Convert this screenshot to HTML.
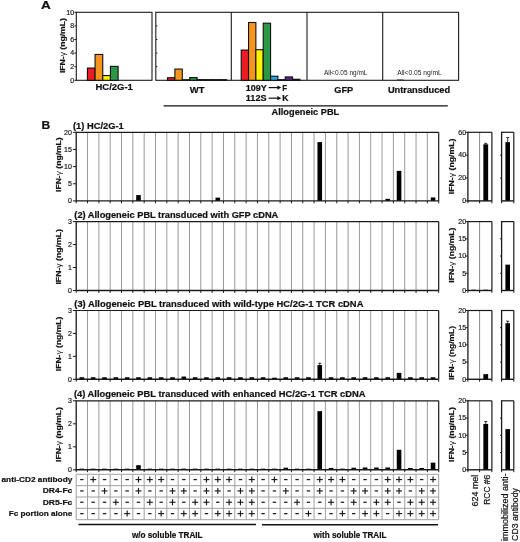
<!DOCTYPE html>
<html><head><meta charset="utf-8"><style>
html,body{margin:0;padding:0;background:#fff;width:520px;height:542px;overflow:hidden;}
svg{display:block;font-family:"Liberation Sans", sans-serif;will-change:transform;}
</style></head><body>
<svg width="520" height="542" viewBox="0 0 520 542">
<rect width="520" height="542" fill="#fff"/>
<text x="41.10" y="9.10" font-size="10.4" font-weight="bold" fill="#111" stroke="#111" stroke-width="0.2" textLength="9.80" lengthAdjust="spacingAndGlyphs">A</text>
<rect x="76.30" y="12.30" width="75.70" height="68.00" fill="none" stroke="#1a1a1a" stroke-width="1.1" />
<rect x="155.80" y="12.30" width="302.80" height="68.00" fill="none" stroke="#1a1a1a" stroke-width="1.1" />
<line x1="231.30" y1="12.30" x2="231.30" y2="80.30" stroke="#1a1a1a" stroke-width="1.1" />
<line x1="307.00" y1="12.30" x2="307.00" y2="80.30" stroke="#1a1a1a" stroke-width="1.1" />
<line x1="382.70" y1="12.30" x2="382.70" y2="80.30" stroke="#1a1a1a" stroke-width="1.1" />
<line x1="74.40" y1="80.30" x2="76.30" y2="80.30" stroke="#1a1a1a" stroke-width="1" />
<text transform="translate(74.20,82.57) scale(1.12,1)" font-size="6.3" text-anchor="end" fill="#1a1a1a" stroke="#1a1a1a" stroke-width="0.18">0</text>
<line x1="74.40" y1="66.70" x2="76.30" y2="66.70" stroke="#1a1a1a" stroke-width="1" />
<text transform="translate(74.20,68.97) scale(1.12,1)" font-size="6.3" text-anchor="end" fill="#1a1a1a" stroke="#1a1a1a" stroke-width="0.18">2</text>
<line x1="74.40" y1="53.10" x2="76.30" y2="53.10" stroke="#1a1a1a" stroke-width="1" />
<text transform="translate(74.20,55.37) scale(1.12,1)" font-size="6.3" text-anchor="end" fill="#1a1a1a" stroke="#1a1a1a" stroke-width="0.18">4</text>
<line x1="74.40" y1="39.50" x2="76.30" y2="39.50" stroke="#1a1a1a" stroke-width="1" />
<text transform="translate(74.20,41.77) scale(1.12,1)" font-size="6.3" text-anchor="end" fill="#1a1a1a" stroke="#1a1a1a" stroke-width="0.18">6</text>
<line x1="74.40" y1="25.90" x2="76.30" y2="25.90" stroke="#1a1a1a" stroke-width="1" />
<text transform="translate(74.20,28.17) scale(1.12,1)" font-size="6.3" text-anchor="end" fill="#1a1a1a" stroke="#1a1a1a" stroke-width="0.18">8</text>
<line x1="74.40" y1="12.30" x2="76.30" y2="12.30" stroke="#1a1a1a" stroke-width="1" />
<text transform="translate(74.20,14.57) scale(1.12,1)" font-size="6.3" text-anchor="end" fill="#1a1a1a" stroke="#1a1a1a" stroke-width="0.18">10</text>
<line x1="155.80" y1="66.70" x2="157.30" y2="66.70" stroke="#1a1a1a" stroke-width="1" />
<line x1="155.80" y1="53.10" x2="157.30" y2="53.10" stroke="#1a1a1a" stroke-width="1" />
<line x1="155.80" y1="39.50" x2="157.30" y2="39.50" stroke="#1a1a1a" stroke-width="1" />
<line x1="155.80" y1="25.90" x2="157.30" y2="25.90" stroke="#1a1a1a" stroke-width="1" />
<text transform="translate(64.80,73.10) rotate(-90)" x="0" y="0" font-size="7.8" font-weight="bold" fill="#111" stroke="#111" stroke-width="0.2" textLength="55.00" lengthAdjust="spacingAndGlyphs">IFN-<tspan font-weight="normal" stroke-width="0">γ</tspan> (ng/mL)</text>
<rect x="87.40" y="68.06" width="7.68" height="12.24" fill="#ec1c24" stroke="#111" stroke-width="1.1" />
<rect x="95.08" y="54.46" width="7.68" height="25.84" fill="#f7941d" stroke="#111" stroke-width="1.1" />
<rect x="102.76" y="75.54" width="7.68" height="4.76" fill="#fff200" stroke="#111" stroke-width="1.1" />
<rect x="110.44" y="66.36" width="7.68" height="13.94" fill="#2b9846" stroke="#111" stroke-width="1.1" />
<rect x="167.50" y="77.72" width="7.40" height="2.58" fill="#ec1c24" stroke="#111" stroke-width="1.1" />
<rect x="174.90" y="69.08" width="7.40" height="11.22" fill="#f7941d" stroke="#111" stroke-width="1.1" />
<rect x="182.30" y="79.70" width="7.40" height="0.60" fill="#fff200" stroke="#111" stroke-width="1.1" />
<rect x="189.70" y="77.58" width="7.40" height="2.72" fill="#2b9846" stroke="#111" stroke-width="1.1" />
<rect x="197.10" y="79.62" width="7.40" height="0.68" fill="#27a6de" stroke="#111" stroke-width="1.1" />
<rect x="204.50" y="79.70" width="7.40" height="0.60" fill="#222" stroke="#111" stroke-width="1.1" />
<rect x="211.90" y="79.70" width="7.40" height="0.60" fill="#5a2a82" stroke="#111" stroke-width="1.1" />
<rect x="219.30" y="79.70" width="7.40" height="0.60" fill="#222" stroke="#111" stroke-width="1.1" />
<rect x="241.20" y="50.04" width="7.34" height="30.26" fill="#ec1c24" stroke="#111" stroke-width="1.1" />
<rect x="248.54" y="22.50" width="7.34" height="57.80" fill="#f7941d" stroke="#111" stroke-width="1.1" />
<rect x="255.88" y="49.70" width="7.34" height="30.60" fill="#fff200" stroke="#111" stroke-width="1.1" />
<rect x="263.22" y="23.18" width="7.34" height="57.12" fill="#2b9846" stroke="#111" stroke-width="1.1" />
<rect x="270.56" y="76.22" width="7.34" height="4.08" fill="#27a6de" stroke="#111" stroke-width="1.1" />
<rect x="277.90" y="79.70" width="7.34" height="0.60" fill="#222" stroke="#111" stroke-width="1.1" />
<rect x="285.24" y="76.90" width="7.34" height="3.40" fill="#5a2a82" stroke="#111" stroke-width="1.1" />
<rect x="292.58" y="79.28" width="7.34" height="1.02" fill="#222" stroke="#111" stroke-width="1.1" />
<rect x="397.00" y="79.50" width="6.50" height="0.80" fill="#222" stroke="none" stroke-width="0" />
<text x="323.90" y="74.60" font-size="6.4" font-weight="normal" fill="#222" textLength="43.60" lengthAdjust="spacingAndGlyphs">All&lt;0.05 ng/mL</text>
<text x="397.20" y="74.60" font-size="6.4" font-weight="normal" fill="#222" textLength="44.50" lengthAdjust="spacingAndGlyphs">All&lt;0.05 ng/mL</text>
<text x="95.50" y="90.40" font-size="8.5" font-weight="bold" fill="#111" stroke="#111" stroke-width="0.2" textLength="37.30" lengthAdjust="spacingAndGlyphs">HC/2G-1</text>
<text x="189.80" y="92.70" font-size="8.5" font-weight="bold" fill="#111" stroke="#111" stroke-width="0.2" textLength="14.70" lengthAdjust="spacingAndGlyphs">WT</text>
<text x="245.80" y="90.60" font-size="8.5" font-weight="bold" fill="#111" stroke="#111" stroke-width="0.2" textLength="21.10" lengthAdjust="spacingAndGlyphs">109Y</text>
<text x="245.80" y="101.20" font-size="8.5" font-weight="bold" fill="#111" stroke="#111" stroke-width="0.2" textLength="20.70" lengthAdjust="spacingAndGlyphs">112S</text>
<line x1="268.60" y1="87.60" x2="278.00" y2="87.60" stroke="#111" stroke-width="1.2" />
<path d="M277.4,85.50 L281.3,87.60 L277.4,89.70 Z" fill="#111"/>
<line x1="268.60" y1="98.20" x2="278.00" y2="98.20" stroke="#111" stroke-width="1.2" />
<path d="M277.4,96.10 L281.3,98.20 L277.4,100.30 Z" fill="#111"/>
<text x="282.20" y="90.60" font-size="8.5" font-weight="bold" fill="#111" stroke="#111" stroke-width="0.2" textLength="4.80" lengthAdjust="spacingAndGlyphs">F</text>
<text x="282.20" y="101.20" font-size="8.5" font-weight="bold" fill="#111" stroke="#111" stroke-width="0.2" textLength="6.30" lengthAdjust="spacingAndGlyphs">K</text>
<text x="334.30" y="92.80" font-size="8.5" font-weight="bold" fill="#111" stroke="#111" stroke-width="0.2" textLength="19.00" lengthAdjust="spacingAndGlyphs">GFP</text>
<text x="387.90" y="93.30" font-size="8.5" font-weight="bold" fill="#111" stroke="#111" stroke-width="0.2" textLength="62.30" lengthAdjust="spacingAndGlyphs">Untransduced</text>
<line x1="163.60" y1="105.90" x2="447.80" y2="105.90" stroke="#111" stroke-width="1.4" />
<text x="271.60" y="114.80" font-size="8.5" font-weight="bold" fill="#111" stroke="#111" stroke-width="0.2" textLength="67.60" lengthAdjust="spacingAndGlyphs">Allogeneic PBL</text>
<text x="41.40" y="129.30" font-size="10.8" font-weight="bold" fill="#111" stroke="#111" stroke-width="0.2" textLength="8.70" lengthAdjust="spacingAndGlyphs">B</text>
<text x="73.00" y="128.70" font-size="8.5" font-weight="bold" fill="#111" stroke="#111" stroke-width="0.2" textLength="50.80" lengthAdjust="spacingAndGlyphs">(1) HC/2G-1</text>
<line x1="87.53" y1="132.30" x2="87.53" y2="200.90" stroke="#999999" stroke-width="1.0" />
<line x1="98.86" y1="132.30" x2="98.86" y2="200.90" stroke="#999999" stroke-width="1.0" />
<line x1="110.18" y1="132.30" x2="110.18" y2="200.90" stroke="#999999" stroke-width="1.0" />
<line x1="121.51" y1="132.30" x2="121.51" y2="200.90" stroke="#999999" stroke-width="1.0" />
<line x1="132.84" y1="132.30" x2="132.84" y2="200.90" stroke="#999999" stroke-width="1.0" />
<line x1="144.17" y1="132.30" x2="144.17" y2="200.90" stroke="#999999" stroke-width="1.0" />
<line x1="155.50" y1="132.30" x2="155.50" y2="200.90" stroke="#999999" stroke-width="1.0" />
<line x1="166.82" y1="132.30" x2="166.82" y2="200.90" stroke="#999999" stroke-width="1.0" />
<line x1="178.15" y1="132.30" x2="178.15" y2="200.90" stroke="#999999" stroke-width="1.0" />
<line x1="189.48" y1="132.30" x2="189.48" y2="200.90" stroke="#999999" stroke-width="1.0" />
<line x1="200.81" y1="132.30" x2="200.81" y2="200.90" stroke="#999999" stroke-width="1.0" />
<line x1="212.14" y1="132.30" x2="212.14" y2="200.90" stroke="#999999" stroke-width="1.0" />
<line x1="223.47" y1="132.30" x2="223.47" y2="200.90" stroke="#999999" stroke-width="1.0" />
<line x1="234.79" y1="132.30" x2="234.79" y2="200.90" stroke="#999999" stroke-width="1.0" />
<line x1="246.12" y1="132.30" x2="246.12" y2="200.90" stroke="#999999" stroke-width="1.0" />
<line x1="257.45" y1="132.30" x2="257.45" y2="200.90" stroke="#999999" stroke-width="1.0" />
<line x1="268.78" y1="132.30" x2="268.78" y2="200.90" stroke="#999999" stroke-width="1.0" />
<line x1="280.11" y1="132.30" x2="280.11" y2="200.90" stroke="#999999" stroke-width="1.0" />
<line x1="291.43" y1="132.30" x2="291.43" y2="200.90" stroke="#999999" stroke-width="1.0" />
<line x1="302.76" y1="132.30" x2="302.76" y2="200.90" stroke="#999999" stroke-width="1.0" />
<line x1="314.09" y1="132.30" x2="314.09" y2="200.90" stroke="#999999" stroke-width="1.0" />
<line x1="325.42" y1="132.30" x2="325.42" y2="200.90" stroke="#999999" stroke-width="1.0" />
<line x1="336.75" y1="132.30" x2="336.75" y2="200.90" stroke="#999999" stroke-width="1.0" />
<line x1="348.07" y1="132.30" x2="348.07" y2="200.90" stroke="#999999" stroke-width="1.0" />
<line x1="359.40" y1="132.30" x2="359.40" y2="200.90" stroke="#999999" stroke-width="1.0" />
<line x1="370.73" y1="132.30" x2="370.73" y2="200.90" stroke="#999999" stroke-width="1.0" />
<line x1="382.06" y1="132.30" x2="382.06" y2="200.90" stroke="#999999" stroke-width="1.0" />
<line x1="393.39" y1="132.30" x2="393.39" y2="200.90" stroke="#999999" stroke-width="1.0" />
<line x1="404.72" y1="132.30" x2="404.72" y2="200.90" stroke="#999999" stroke-width="1.0" />
<line x1="416.04" y1="132.30" x2="416.04" y2="200.90" stroke="#999999" stroke-width="1.0" />
<line x1="427.37" y1="132.30" x2="427.37" y2="200.90" stroke="#999999" stroke-width="1.0" />
<rect x="136.20" y="195.07" width="4.60" height="5.83" fill="#000" stroke="none" stroke-width="0" />
<rect x="215.50" y="197.64" width="4.60" height="3.26" fill="#000" stroke="none" stroke-width="0" />
<rect x="317.45" y="142.08" width="4.60" height="58.82" fill="#000" stroke="none" stroke-width="0" />
<rect x="385.42" y="198.84" width="4.60" height="2.06" fill="#000" stroke="none" stroke-width="0" />
<rect x="396.75" y="170.89" width="4.60" height="30.01" fill="#000" stroke="none" stroke-width="0" />
<rect x="430.74" y="197.47" width="4.60" height="3.43" fill="#000" stroke="none" stroke-width="0" />
<line x1="76.20" y1="132.30" x2="438.70" y2="132.30" stroke="#1a1a1a" stroke-width="1.2" />
<line x1="438.70" y1="132.30" x2="438.70" y2="200.90" stroke="#1a1a1a" stroke-width="1.2" />
<line x1="76.20" y1="131.70" x2="76.20" y2="201.50" stroke="#1a1a1a" stroke-width="1.3" />
<line x1="76.20" y1="200.90" x2="438.70" y2="200.90" stroke="#1a1a1a" stroke-width="1.4" />
<line x1="76.20" y1="200.90" x2="76.20" y2="203.30" stroke="#1a1a1a" stroke-width="1" />
<line x1="87.53" y1="200.90" x2="87.53" y2="203.30" stroke="#1a1a1a" stroke-width="1" />
<line x1="98.86" y1="200.90" x2="98.86" y2="203.30" stroke="#1a1a1a" stroke-width="1" />
<line x1="110.18" y1="200.90" x2="110.18" y2="203.30" stroke="#1a1a1a" stroke-width="1" />
<line x1="121.51" y1="200.90" x2="121.51" y2="203.30" stroke="#1a1a1a" stroke-width="1" />
<line x1="132.84" y1="200.90" x2="132.84" y2="203.30" stroke="#1a1a1a" stroke-width="1" />
<line x1="144.17" y1="200.90" x2="144.17" y2="203.30" stroke="#1a1a1a" stroke-width="1" />
<line x1="155.50" y1="200.90" x2="155.50" y2="203.30" stroke="#1a1a1a" stroke-width="1" />
<line x1="166.82" y1="200.90" x2="166.82" y2="203.30" stroke="#1a1a1a" stroke-width="1" />
<line x1="178.15" y1="200.90" x2="178.15" y2="203.30" stroke="#1a1a1a" stroke-width="1" />
<line x1="189.48" y1="200.90" x2="189.48" y2="203.30" stroke="#1a1a1a" stroke-width="1" />
<line x1="200.81" y1="200.90" x2="200.81" y2="203.30" stroke="#1a1a1a" stroke-width="1" />
<line x1="212.14" y1="200.90" x2="212.14" y2="203.30" stroke="#1a1a1a" stroke-width="1" />
<line x1="223.47" y1="200.90" x2="223.47" y2="203.30" stroke="#1a1a1a" stroke-width="1" />
<line x1="234.79" y1="200.90" x2="234.79" y2="203.30" stroke="#1a1a1a" stroke-width="1" />
<line x1="246.12" y1="200.90" x2="246.12" y2="203.30" stroke="#1a1a1a" stroke-width="1" />
<line x1="257.45" y1="200.90" x2="257.45" y2="203.30" stroke="#1a1a1a" stroke-width="1" />
<line x1="268.78" y1="200.90" x2="268.78" y2="203.30" stroke="#1a1a1a" stroke-width="1" />
<line x1="280.11" y1="200.90" x2="280.11" y2="203.30" stroke="#1a1a1a" stroke-width="1" />
<line x1="291.43" y1="200.90" x2="291.43" y2="203.30" stroke="#1a1a1a" stroke-width="1" />
<line x1="302.76" y1="200.90" x2="302.76" y2="203.30" stroke="#1a1a1a" stroke-width="1" />
<line x1="314.09" y1="200.90" x2="314.09" y2="203.30" stroke="#1a1a1a" stroke-width="1" />
<line x1="325.42" y1="200.90" x2="325.42" y2="203.30" stroke="#1a1a1a" stroke-width="1" />
<line x1="336.75" y1="200.90" x2="336.75" y2="203.30" stroke="#1a1a1a" stroke-width="1" />
<line x1="348.07" y1="200.90" x2="348.07" y2="203.30" stroke="#1a1a1a" stroke-width="1" />
<line x1="359.40" y1="200.90" x2="359.40" y2="203.30" stroke="#1a1a1a" stroke-width="1" />
<line x1="370.73" y1="200.90" x2="370.73" y2="203.30" stroke="#1a1a1a" stroke-width="1" />
<line x1="382.06" y1="200.90" x2="382.06" y2="203.30" stroke="#1a1a1a" stroke-width="1" />
<line x1="393.39" y1="200.90" x2="393.39" y2="203.30" stroke="#1a1a1a" stroke-width="1" />
<line x1="404.72" y1="200.90" x2="404.72" y2="203.30" stroke="#1a1a1a" stroke-width="1" />
<line x1="416.04" y1="200.90" x2="416.04" y2="203.30" stroke="#1a1a1a" stroke-width="1" />
<line x1="427.37" y1="200.90" x2="427.37" y2="203.30" stroke="#1a1a1a" stroke-width="1" />
<line x1="438.70" y1="200.90" x2="438.70" y2="203.30" stroke="#1a1a1a" stroke-width="1" />
<line x1="72.90" y1="200.90" x2="76.20" y2="200.90" stroke="#1a1a1a" stroke-width="1" />
<text transform="translate(71.90,203.17) scale(1.12,1)" font-size="6.3" text-anchor="end" fill="#1a1a1a" stroke="#1a1a1a" stroke-width="0.18">0</text>
<line x1="72.90" y1="183.75" x2="76.20" y2="183.75" stroke="#1a1a1a" stroke-width="1" />
<text transform="translate(71.90,186.02) scale(1.12,1)" font-size="6.3" text-anchor="end" fill="#1a1a1a" stroke="#1a1a1a" stroke-width="0.18">5</text>
<line x1="72.90" y1="166.60" x2="76.20" y2="166.60" stroke="#1a1a1a" stroke-width="1" />
<text transform="translate(71.90,168.87) scale(1.12,1)" font-size="6.3" text-anchor="end" fill="#1a1a1a" stroke="#1a1a1a" stroke-width="0.18">10</text>
<line x1="72.90" y1="149.45" x2="76.20" y2="149.45" stroke="#1a1a1a" stroke-width="1" />
<text transform="translate(71.90,151.72) scale(1.12,1)" font-size="6.3" text-anchor="end" fill="#1a1a1a" stroke="#1a1a1a" stroke-width="0.18">15</text>
<line x1="72.90" y1="132.30" x2="76.20" y2="132.30" stroke="#1a1a1a" stroke-width="1" />
<text transform="translate(71.90,134.57) scale(1.12,1)" font-size="6.3" text-anchor="end" fill="#1a1a1a" stroke="#1a1a1a" stroke-width="0.18">20</text>
<text transform="translate(60.50,191.90) rotate(-90)" x="0" y="0" font-size="7.6" font-weight="bold" fill="#111" stroke="#111" stroke-width="0.2" textLength="54.60" lengthAdjust="spacingAndGlyphs">IFN-<tspan font-weight="normal" stroke-width="0">γ</tspan> (ng/mL)</text>
<line x1="479.60" y1="132.30" x2="479.60" y2="200.90" stroke="#888" stroke-width="1.0" />
<rect x="483.35" y="144.31" width="4.80" height="56.59" fill="#000" stroke="none" stroke-width="0" />
<line x1="485.75" y1="143.39" x2="485.75" y2="144.31" stroke="#000" stroke-width="0.8" />
<line x1="484.25" y1="143.39" x2="487.25" y2="143.39" stroke="#000" stroke-width="0.8" />
<line x1="467.90" y1="132.30" x2="491.90" y2="132.30" stroke="#1a1a1a" stroke-width="1.2" />
<line x1="491.90" y1="132.30" x2="491.90" y2="200.90" stroke="#1a1a1a" stroke-width="1.2" />
<line x1="467.90" y1="131.70" x2="467.90" y2="201.50" stroke="#1a1a1a" stroke-width="1.3" />
<line x1="467.90" y1="200.90" x2="491.90" y2="200.90" stroke="#1a1a1a" stroke-width="1.4" />
<line x1="467.90" y1="200.90" x2="467.90" y2="203.30" stroke="#1a1a1a" stroke-width="1" />
<line x1="479.60" y1="200.90" x2="479.60" y2="203.30" stroke="#1a1a1a" stroke-width="1" />
<line x1="491.90" y1="200.90" x2="491.90" y2="203.30" stroke="#1a1a1a" stroke-width="1" />
<line x1="465.60" y1="200.90" x2="467.90" y2="200.90" stroke="#1a1a1a" stroke-width="1" />
<text transform="translate(466.20,203.17) scale(1.12,1)" font-size="6.3" text-anchor="end" fill="#1a1a1a" stroke="#1a1a1a" stroke-width="0.18">0</text>
<line x1="465.60" y1="178.03" x2="467.90" y2="178.03" stroke="#1a1a1a" stroke-width="1" />
<text transform="translate(466.20,180.30) scale(1.12,1)" font-size="6.3" text-anchor="end" fill="#1a1a1a" stroke="#1a1a1a" stroke-width="0.18">20</text>
<line x1="465.60" y1="155.17" x2="467.90" y2="155.17" stroke="#1a1a1a" stroke-width="1" />
<text transform="translate(466.20,157.43) scale(1.12,1)" font-size="6.3" text-anchor="end" fill="#1a1a1a" stroke="#1a1a1a" stroke-width="0.18">40</text>
<line x1="465.60" y1="132.30" x2="467.90" y2="132.30" stroke="#1a1a1a" stroke-width="1" />
<text transform="translate(466.20,134.57) scale(1.12,1)" font-size="6.3" text-anchor="end" fill="#1a1a1a" stroke="#1a1a1a" stroke-width="0.18">60</text>
<text transform="translate(453.80,194.20) rotate(-90)" x="0" y="0" font-size="7.9" font-weight="bold" fill="#111" stroke="#111" stroke-width="0.2" textLength="55.70" lengthAdjust="spacingAndGlyphs">IFN-<tspan font-weight="normal" stroke-width="0">γ</tspan> (ng/mL)</text>
<rect x="505.40" y="142.13" width="4.60" height="58.77" fill="#000" stroke="none" stroke-width="0" />
<line x1="507.70" y1="137.56" x2="507.70" y2="142.13" stroke="#000" stroke-width="0.8" />
<line x1="506.20" y1="137.56" x2="509.20" y2="137.56" stroke="#000" stroke-width="0.8" />
<line x1="501.60" y1="132.30" x2="513.80" y2="132.30" stroke="#1a1a1a" stroke-width="1.2" />
<line x1="513.80" y1="132.30" x2="513.80" y2="200.90" stroke="#1a1a1a" stroke-width="1.2" />
<line x1="501.60" y1="131.70" x2="501.60" y2="201.50" stroke="#1a1a1a" stroke-width="1.3" />
<line x1="501.60" y1="200.90" x2="513.80" y2="200.90" stroke="#1a1a1a" stroke-width="1.4" />
<line x1="501.60" y1="200.90" x2="501.60" y2="203.30" stroke="#1a1a1a" stroke-width="1" />
<line x1="513.80" y1="200.90" x2="513.80" y2="203.30" stroke="#1a1a1a" stroke-width="1" />
<line x1="500.10" y1="178.03" x2="501.60" y2="178.03" stroke="#1a1a1a" stroke-width="1" />
<line x1="500.10" y1="155.17" x2="501.60" y2="155.17" stroke="#1a1a1a" stroke-width="1" />
<text x="74.30" y="218.00" font-size="8.5" font-weight="bold" fill="#111" stroke="#111" stroke-width="0.2" textLength="204.00" lengthAdjust="spacingAndGlyphs">(2) Allogeneic PBL transduced with GFP cDNA</text>
<line x1="87.53" y1="221.60" x2="87.53" y2="290.50" stroke="#999999" stroke-width="1.0" />
<line x1="98.86" y1="221.60" x2="98.86" y2="290.50" stroke="#999999" stroke-width="1.0" />
<line x1="110.18" y1="221.60" x2="110.18" y2="290.50" stroke="#999999" stroke-width="1.0" />
<line x1="121.51" y1="221.60" x2="121.51" y2="290.50" stroke="#999999" stroke-width="1.0" />
<line x1="132.84" y1="221.60" x2="132.84" y2="290.50" stroke="#999999" stroke-width="1.0" />
<line x1="144.17" y1="221.60" x2="144.17" y2="290.50" stroke="#999999" stroke-width="1.0" />
<line x1="155.50" y1="221.60" x2="155.50" y2="290.50" stroke="#999999" stroke-width="1.0" />
<line x1="166.82" y1="221.60" x2="166.82" y2="290.50" stroke="#999999" stroke-width="1.0" />
<line x1="178.15" y1="221.60" x2="178.15" y2="290.50" stroke="#999999" stroke-width="1.0" />
<line x1="189.48" y1="221.60" x2="189.48" y2="290.50" stroke="#999999" stroke-width="1.0" />
<line x1="200.81" y1="221.60" x2="200.81" y2="290.50" stroke="#999999" stroke-width="1.0" />
<line x1="212.14" y1="221.60" x2="212.14" y2="290.50" stroke="#999999" stroke-width="1.0" />
<line x1="223.47" y1="221.60" x2="223.47" y2="290.50" stroke="#999999" stroke-width="1.0" />
<line x1="234.79" y1="221.60" x2="234.79" y2="290.50" stroke="#999999" stroke-width="1.0" />
<line x1="246.12" y1="221.60" x2="246.12" y2="290.50" stroke="#999999" stroke-width="1.0" />
<line x1="257.45" y1="221.60" x2="257.45" y2="290.50" stroke="#999999" stroke-width="1.0" />
<line x1="268.78" y1="221.60" x2="268.78" y2="290.50" stroke="#999999" stroke-width="1.0" />
<line x1="280.11" y1="221.60" x2="280.11" y2="290.50" stroke="#999999" stroke-width="1.0" />
<line x1="291.43" y1="221.60" x2="291.43" y2="290.50" stroke="#999999" stroke-width="1.0" />
<line x1="302.76" y1="221.60" x2="302.76" y2="290.50" stroke="#999999" stroke-width="1.0" />
<line x1="314.09" y1="221.60" x2="314.09" y2="290.50" stroke="#999999" stroke-width="1.0" />
<line x1="325.42" y1="221.60" x2="325.42" y2="290.50" stroke="#999999" stroke-width="1.0" />
<line x1="336.75" y1="221.60" x2="336.75" y2="290.50" stroke="#999999" stroke-width="1.0" />
<line x1="348.07" y1="221.60" x2="348.07" y2="290.50" stroke="#999999" stroke-width="1.0" />
<line x1="359.40" y1="221.60" x2="359.40" y2="290.50" stroke="#999999" stroke-width="1.0" />
<line x1="370.73" y1="221.60" x2="370.73" y2="290.50" stroke="#999999" stroke-width="1.0" />
<line x1="382.06" y1="221.60" x2="382.06" y2="290.50" stroke="#999999" stroke-width="1.0" />
<line x1="393.39" y1="221.60" x2="393.39" y2="290.50" stroke="#999999" stroke-width="1.0" />
<line x1="404.72" y1="221.60" x2="404.72" y2="290.50" stroke="#999999" stroke-width="1.0" />
<line x1="416.04" y1="221.60" x2="416.04" y2="290.50" stroke="#999999" stroke-width="1.0" />
<line x1="427.37" y1="221.60" x2="427.37" y2="290.50" stroke="#999999" stroke-width="1.0" />
<line x1="76.20" y1="221.60" x2="438.70" y2="221.60" stroke="#1a1a1a" stroke-width="1.2" />
<line x1="438.70" y1="221.60" x2="438.70" y2="290.50" stroke="#1a1a1a" stroke-width="1.2" />
<line x1="76.20" y1="221.00" x2="76.20" y2="291.10" stroke="#1a1a1a" stroke-width="1.3" />
<line x1="76.20" y1="290.50" x2="438.70" y2="290.50" stroke="#1a1a1a" stroke-width="1.4" />
<line x1="76.20" y1="290.50" x2="76.20" y2="292.90" stroke="#1a1a1a" stroke-width="1" />
<line x1="87.53" y1="290.50" x2="87.53" y2="292.90" stroke="#1a1a1a" stroke-width="1" />
<line x1="98.86" y1="290.50" x2="98.86" y2="292.90" stroke="#1a1a1a" stroke-width="1" />
<line x1="110.18" y1="290.50" x2="110.18" y2="292.90" stroke="#1a1a1a" stroke-width="1" />
<line x1="121.51" y1="290.50" x2="121.51" y2="292.90" stroke="#1a1a1a" stroke-width="1" />
<line x1="132.84" y1="290.50" x2="132.84" y2="292.90" stroke="#1a1a1a" stroke-width="1" />
<line x1="144.17" y1="290.50" x2="144.17" y2="292.90" stroke="#1a1a1a" stroke-width="1" />
<line x1="155.50" y1="290.50" x2="155.50" y2="292.90" stroke="#1a1a1a" stroke-width="1" />
<line x1="166.82" y1="290.50" x2="166.82" y2="292.90" stroke="#1a1a1a" stroke-width="1" />
<line x1="178.15" y1="290.50" x2="178.15" y2="292.90" stroke="#1a1a1a" stroke-width="1" />
<line x1="189.48" y1="290.50" x2="189.48" y2="292.90" stroke="#1a1a1a" stroke-width="1" />
<line x1="200.81" y1="290.50" x2="200.81" y2="292.90" stroke="#1a1a1a" stroke-width="1" />
<line x1="212.14" y1="290.50" x2="212.14" y2="292.90" stroke="#1a1a1a" stroke-width="1" />
<line x1="223.47" y1="290.50" x2="223.47" y2="292.90" stroke="#1a1a1a" stroke-width="1" />
<line x1="234.79" y1="290.50" x2="234.79" y2="292.90" stroke="#1a1a1a" stroke-width="1" />
<line x1="246.12" y1="290.50" x2="246.12" y2="292.90" stroke="#1a1a1a" stroke-width="1" />
<line x1="257.45" y1="290.50" x2="257.45" y2="292.90" stroke="#1a1a1a" stroke-width="1" />
<line x1="268.78" y1="290.50" x2="268.78" y2="292.90" stroke="#1a1a1a" stroke-width="1" />
<line x1="280.11" y1="290.50" x2="280.11" y2="292.90" stroke="#1a1a1a" stroke-width="1" />
<line x1="291.43" y1="290.50" x2="291.43" y2="292.90" stroke="#1a1a1a" stroke-width="1" />
<line x1="302.76" y1="290.50" x2="302.76" y2="292.90" stroke="#1a1a1a" stroke-width="1" />
<line x1="314.09" y1="290.50" x2="314.09" y2="292.90" stroke="#1a1a1a" stroke-width="1" />
<line x1="325.42" y1="290.50" x2="325.42" y2="292.90" stroke="#1a1a1a" stroke-width="1" />
<line x1="336.75" y1="290.50" x2="336.75" y2="292.90" stroke="#1a1a1a" stroke-width="1" />
<line x1="348.07" y1="290.50" x2="348.07" y2="292.90" stroke="#1a1a1a" stroke-width="1" />
<line x1="359.40" y1="290.50" x2="359.40" y2="292.90" stroke="#1a1a1a" stroke-width="1" />
<line x1="370.73" y1="290.50" x2="370.73" y2="292.90" stroke="#1a1a1a" stroke-width="1" />
<line x1="382.06" y1="290.50" x2="382.06" y2="292.90" stroke="#1a1a1a" stroke-width="1" />
<line x1="393.39" y1="290.50" x2="393.39" y2="292.90" stroke="#1a1a1a" stroke-width="1" />
<line x1="404.72" y1="290.50" x2="404.72" y2="292.90" stroke="#1a1a1a" stroke-width="1" />
<line x1="416.04" y1="290.50" x2="416.04" y2="292.90" stroke="#1a1a1a" stroke-width="1" />
<line x1="427.37" y1="290.50" x2="427.37" y2="292.90" stroke="#1a1a1a" stroke-width="1" />
<line x1="438.70" y1="290.50" x2="438.70" y2="292.90" stroke="#1a1a1a" stroke-width="1" />
<line x1="72.90" y1="290.50" x2="76.20" y2="290.50" stroke="#1a1a1a" stroke-width="1" />
<text transform="translate(71.90,292.77) scale(1.12,1)" font-size="6.3" text-anchor="end" fill="#1a1a1a" stroke="#1a1a1a" stroke-width="0.18">0</text>
<line x1="72.90" y1="267.53" x2="76.20" y2="267.53" stroke="#1a1a1a" stroke-width="1" />
<text transform="translate(71.90,269.80) scale(1.12,1)" font-size="6.3" text-anchor="end" fill="#1a1a1a" stroke="#1a1a1a" stroke-width="0.18">1</text>
<line x1="72.90" y1="244.57" x2="76.20" y2="244.57" stroke="#1a1a1a" stroke-width="1" />
<text transform="translate(71.90,246.83) scale(1.12,1)" font-size="6.3" text-anchor="end" fill="#1a1a1a" stroke="#1a1a1a" stroke-width="0.18">2</text>
<line x1="72.90" y1="221.60" x2="76.20" y2="221.60" stroke="#1a1a1a" stroke-width="1" />
<text transform="translate(71.90,223.87) scale(1.12,1)" font-size="6.3" text-anchor="end" fill="#1a1a1a" stroke="#1a1a1a" stroke-width="0.18">3</text>
<text transform="translate(60.50,284.60) rotate(-90)" x="0" y="0" font-size="7.6" font-weight="bold" fill="#111" stroke="#111" stroke-width="0.2" textLength="55.60" lengthAdjust="spacingAndGlyphs">IFN-<tspan font-weight="normal" stroke-width="0">γ</tspan> (ng/mL)</text>
<line x1="479.60" y1="221.60" x2="479.60" y2="290.50" stroke="#888" stroke-width="1.0" />
<rect x="471.35" y="289.70" width="4.80" height="0.80" fill="#000" stroke="none" stroke-width="0" />
<rect x="483.35" y="289.70" width="4.80" height="0.80" fill="#000" stroke="none" stroke-width="0" />
<line x1="467.90" y1="221.60" x2="491.90" y2="221.60" stroke="#1a1a1a" stroke-width="1.2" />
<line x1="491.90" y1="221.60" x2="491.90" y2="290.50" stroke="#1a1a1a" stroke-width="1.2" />
<line x1="467.90" y1="221.00" x2="467.90" y2="291.10" stroke="#1a1a1a" stroke-width="1.3" />
<line x1="467.90" y1="290.50" x2="491.90" y2="290.50" stroke="#1a1a1a" stroke-width="1.4" />
<line x1="467.90" y1="290.50" x2="467.90" y2="292.90" stroke="#1a1a1a" stroke-width="1" />
<line x1="479.60" y1="290.50" x2="479.60" y2="292.90" stroke="#1a1a1a" stroke-width="1" />
<line x1="491.90" y1="290.50" x2="491.90" y2="292.90" stroke="#1a1a1a" stroke-width="1" />
<line x1="465.60" y1="290.50" x2="467.90" y2="290.50" stroke="#1a1a1a" stroke-width="1" />
<text transform="translate(466.20,292.77) scale(1.12,1)" font-size="6.3" text-anchor="end" fill="#1a1a1a" stroke="#1a1a1a" stroke-width="0.18">0</text>
<line x1="465.60" y1="273.27" x2="467.90" y2="273.27" stroke="#1a1a1a" stroke-width="1" />
<text transform="translate(466.20,275.54) scale(1.12,1)" font-size="6.3" text-anchor="end" fill="#1a1a1a" stroke="#1a1a1a" stroke-width="0.18">5</text>
<line x1="465.60" y1="256.05" x2="467.90" y2="256.05" stroke="#1a1a1a" stroke-width="1" />
<text transform="translate(466.20,258.32) scale(1.12,1)" font-size="6.3" text-anchor="end" fill="#1a1a1a" stroke="#1a1a1a" stroke-width="0.18">10</text>
<line x1="465.60" y1="238.82" x2="467.90" y2="238.82" stroke="#1a1a1a" stroke-width="1" />
<text transform="translate(466.20,241.09) scale(1.12,1)" font-size="6.3" text-anchor="end" fill="#1a1a1a" stroke="#1a1a1a" stroke-width="0.18">15</text>
<line x1="465.60" y1="221.60" x2="467.90" y2="221.60" stroke="#1a1a1a" stroke-width="1" />
<text transform="translate(466.20,223.87) scale(1.12,1)" font-size="6.3" text-anchor="end" fill="#1a1a1a" stroke="#1a1a1a" stroke-width="0.18">20</text>
<text transform="translate(453.80,282.70) rotate(-90)" x="0" y="0" font-size="7.9" font-weight="bold" fill="#111" stroke="#111" stroke-width="0.2" textLength="55.20" lengthAdjust="spacingAndGlyphs">IFN-<tspan font-weight="normal" stroke-width="0">γ</tspan> (ng/mL)</text>
<rect x="505.40" y="264.66" width="4.60" height="25.84" fill="#000" stroke="none" stroke-width="0" />
<line x1="501.60" y1="221.60" x2="513.80" y2="221.60" stroke="#1a1a1a" stroke-width="1.2" />
<line x1="513.80" y1="221.60" x2="513.80" y2="290.50" stroke="#1a1a1a" stroke-width="1.2" />
<line x1="501.60" y1="221.00" x2="501.60" y2="291.10" stroke="#1a1a1a" stroke-width="1.3" />
<line x1="501.60" y1="290.50" x2="513.80" y2="290.50" stroke="#1a1a1a" stroke-width="1.4" />
<line x1="501.60" y1="290.50" x2="501.60" y2="292.90" stroke="#1a1a1a" stroke-width="1" />
<line x1="513.80" y1="290.50" x2="513.80" y2="292.90" stroke="#1a1a1a" stroke-width="1" />
<line x1="500.10" y1="273.27" x2="501.60" y2="273.27" stroke="#1a1a1a" stroke-width="1" />
<line x1="500.10" y1="256.05" x2="501.60" y2="256.05" stroke="#1a1a1a" stroke-width="1" />
<line x1="500.10" y1="238.82" x2="501.60" y2="238.82" stroke="#1a1a1a" stroke-width="1" />
<text x="74.30" y="306.90" font-size="8.5" font-weight="bold" fill="#111" stroke="#111" stroke-width="0.2" textLength="289.10" lengthAdjust="spacingAndGlyphs">(3) Allogeneic PBL transduced with wild-type HC/2G-1 TCR cDNA</text>
<line x1="87.53" y1="310.50" x2="87.53" y2="379.30" stroke="#999999" stroke-width="1.0" />
<line x1="98.86" y1="310.50" x2="98.86" y2="379.30" stroke="#999999" stroke-width="1.0" />
<line x1="110.18" y1="310.50" x2="110.18" y2="379.30" stroke="#999999" stroke-width="1.0" />
<line x1="121.51" y1="310.50" x2="121.51" y2="379.30" stroke="#999999" stroke-width="1.0" />
<line x1="132.84" y1="310.50" x2="132.84" y2="379.30" stroke="#999999" stroke-width="1.0" />
<line x1="144.17" y1="310.50" x2="144.17" y2="379.30" stroke="#999999" stroke-width="1.0" />
<line x1="155.50" y1="310.50" x2="155.50" y2="379.30" stroke="#999999" stroke-width="1.0" />
<line x1="166.82" y1="310.50" x2="166.82" y2="379.30" stroke="#999999" stroke-width="1.0" />
<line x1="178.15" y1="310.50" x2="178.15" y2="379.30" stroke="#999999" stroke-width="1.0" />
<line x1="189.48" y1="310.50" x2="189.48" y2="379.30" stroke="#999999" stroke-width="1.0" />
<line x1="200.81" y1="310.50" x2="200.81" y2="379.30" stroke="#999999" stroke-width="1.0" />
<line x1="212.14" y1="310.50" x2="212.14" y2="379.30" stroke="#999999" stroke-width="1.0" />
<line x1="223.47" y1="310.50" x2="223.47" y2="379.30" stroke="#999999" stroke-width="1.0" />
<line x1="234.79" y1="310.50" x2="234.79" y2="379.30" stroke="#999999" stroke-width="1.0" />
<line x1="246.12" y1="310.50" x2="246.12" y2="379.30" stroke="#999999" stroke-width="1.0" />
<line x1="257.45" y1="310.50" x2="257.45" y2="379.30" stroke="#999999" stroke-width="1.0" />
<line x1="268.78" y1="310.50" x2="268.78" y2="379.30" stroke="#999999" stroke-width="1.0" />
<line x1="280.11" y1="310.50" x2="280.11" y2="379.30" stroke="#999999" stroke-width="1.0" />
<line x1="291.43" y1="310.50" x2="291.43" y2="379.30" stroke="#999999" stroke-width="1.0" />
<line x1="302.76" y1="310.50" x2="302.76" y2="379.30" stroke="#999999" stroke-width="1.0" />
<line x1="314.09" y1="310.50" x2="314.09" y2="379.30" stroke="#999999" stroke-width="1.0" />
<line x1="325.42" y1="310.50" x2="325.42" y2="379.30" stroke="#999999" stroke-width="1.0" />
<line x1="336.75" y1="310.50" x2="336.75" y2="379.30" stroke="#999999" stroke-width="1.0" />
<line x1="348.07" y1="310.50" x2="348.07" y2="379.30" stroke="#999999" stroke-width="1.0" />
<line x1="359.40" y1="310.50" x2="359.40" y2="379.30" stroke="#999999" stroke-width="1.0" />
<line x1="370.73" y1="310.50" x2="370.73" y2="379.30" stroke="#999999" stroke-width="1.0" />
<line x1="382.06" y1="310.50" x2="382.06" y2="379.30" stroke="#999999" stroke-width="1.0" />
<line x1="393.39" y1="310.50" x2="393.39" y2="379.30" stroke="#999999" stroke-width="1.0" />
<line x1="404.72" y1="310.50" x2="404.72" y2="379.30" stroke="#999999" stroke-width="1.0" />
<line x1="416.04" y1="310.50" x2="416.04" y2="379.30" stroke="#999999" stroke-width="1.0" />
<line x1="427.37" y1="310.50" x2="427.37" y2="379.30" stroke="#999999" stroke-width="1.0" />
<rect x="79.56" y="377.24" width="4.60" height="2.06" fill="#000" stroke="none" stroke-width="0" />
<rect x="90.89" y="377.24" width="4.60" height="2.06" fill="#000" stroke="none" stroke-width="0" />
<rect x="102.22" y="377.24" width="4.60" height="2.06" fill="#000" stroke="none" stroke-width="0" />
<rect x="113.55" y="377.24" width="4.60" height="2.06" fill="#000" stroke="none" stroke-width="0" />
<rect x="124.88" y="377.24" width="4.60" height="2.06" fill="#000" stroke="none" stroke-width="0" />
<rect x="136.20" y="377.24" width="4.60" height="2.06" fill="#000" stroke="none" stroke-width="0" />
<rect x="147.53" y="377.24" width="4.60" height="2.06" fill="#000" stroke="none" stroke-width="0" />
<rect x="158.86" y="377.24" width="4.60" height="2.06" fill="#000" stroke="none" stroke-width="0" />
<rect x="170.19" y="377.24" width="4.60" height="2.06" fill="#000" stroke="none" stroke-width="0" />
<rect x="181.52" y="376.55" width="4.60" height="2.75" fill="#000" stroke="none" stroke-width="0" />
<rect x="192.85" y="377.24" width="4.60" height="2.06" fill="#000" stroke="none" stroke-width="0" />
<rect x="204.17" y="377.24" width="4.60" height="2.06" fill="#000" stroke="none" stroke-width="0" />
<rect x="215.50" y="377.24" width="4.60" height="2.06" fill="#000" stroke="none" stroke-width="0" />
<rect x="226.83" y="377.24" width="4.60" height="2.06" fill="#000" stroke="none" stroke-width="0" />
<rect x="238.16" y="377.24" width="4.60" height="2.06" fill="#000" stroke="none" stroke-width="0" />
<rect x="249.49" y="377.24" width="4.60" height="2.06" fill="#000" stroke="none" stroke-width="0" />
<rect x="260.81" y="377.24" width="4.60" height="2.06" fill="#000" stroke="none" stroke-width="0" />
<rect x="272.14" y="377.69" width="4.60" height="1.61" fill="#000" stroke="none" stroke-width="0" />
<rect x="283.47" y="377.24" width="4.60" height="2.06" fill="#000" stroke="none" stroke-width="0" />
<rect x="294.80" y="377.24" width="4.60" height="2.06" fill="#000" stroke="none" stroke-width="0" />
<rect x="306.13" y="377.24" width="4.60" height="2.06" fill="#000" stroke="none" stroke-width="0" />
<rect x="317.45" y="365.08" width="4.60" height="14.22" fill="#000" stroke="none" stroke-width="0" />
<line x1="319.75" y1="363.25" x2="319.75" y2="365.08" stroke="#000" stroke-width="0.8" />
<line x1="318.25" y1="363.25" x2="321.25" y2="363.25" stroke="#000" stroke-width="0.8" />
<rect x="328.78" y="377.24" width="4.60" height="2.06" fill="#000" stroke="none" stroke-width="0" />
<rect x="340.11" y="377.24" width="4.60" height="2.06" fill="#000" stroke="none" stroke-width="0" />
<rect x="351.44" y="377.24" width="4.60" height="2.06" fill="#000" stroke="none" stroke-width="0" />
<rect x="362.77" y="377.24" width="4.60" height="2.06" fill="#000" stroke="none" stroke-width="0" />
<rect x="374.10" y="377.24" width="4.60" height="2.06" fill="#000" stroke="none" stroke-width="0" />
<rect x="385.42" y="377.24" width="4.60" height="2.06" fill="#000" stroke="none" stroke-width="0" />
<rect x="396.75" y="372.88" width="4.60" height="6.42" fill="#000" stroke="none" stroke-width="0" />
<rect x="408.08" y="377.24" width="4.60" height="2.06" fill="#000" stroke="none" stroke-width="0" />
<rect x="419.41" y="377.24" width="4.60" height="2.06" fill="#000" stroke="none" stroke-width="0" />
<rect x="430.74" y="377.24" width="4.60" height="2.06" fill="#000" stroke="none" stroke-width="0" />
<line x1="76.20" y1="310.50" x2="438.70" y2="310.50" stroke="#1a1a1a" stroke-width="1.2" />
<line x1="438.70" y1="310.50" x2="438.70" y2="379.30" stroke="#1a1a1a" stroke-width="1.2" />
<line x1="76.20" y1="309.90" x2="76.20" y2="379.90" stroke="#1a1a1a" stroke-width="1.3" />
<line x1="76.20" y1="379.30" x2="438.70" y2="379.30" stroke="#1a1a1a" stroke-width="1.4" />
<line x1="76.20" y1="379.30" x2="76.20" y2="381.70" stroke="#1a1a1a" stroke-width="1" />
<line x1="87.53" y1="379.30" x2="87.53" y2="381.70" stroke="#1a1a1a" stroke-width="1" />
<line x1="98.86" y1="379.30" x2="98.86" y2="381.70" stroke="#1a1a1a" stroke-width="1" />
<line x1="110.18" y1="379.30" x2="110.18" y2="381.70" stroke="#1a1a1a" stroke-width="1" />
<line x1="121.51" y1="379.30" x2="121.51" y2="381.70" stroke="#1a1a1a" stroke-width="1" />
<line x1="132.84" y1="379.30" x2="132.84" y2="381.70" stroke="#1a1a1a" stroke-width="1" />
<line x1="144.17" y1="379.30" x2="144.17" y2="381.70" stroke="#1a1a1a" stroke-width="1" />
<line x1="155.50" y1="379.30" x2="155.50" y2="381.70" stroke="#1a1a1a" stroke-width="1" />
<line x1="166.82" y1="379.30" x2="166.82" y2="381.70" stroke="#1a1a1a" stroke-width="1" />
<line x1="178.15" y1="379.30" x2="178.15" y2="381.70" stroke="#1a1a1a" stroke-width="1" />
<line x1="189.48" y1="379.30" x2="189.48" y2="381.70" stroke="#1a1a1a" stroke-width="1" />
<line x1="200.81" y1="379.30" x2="200.81" y2="381.70" stroke="#1a1a1a" stroke-width="1" />
<line x1="212.14" y1="379.30" x2="212.14" y2="381.70" stroke="#1a1a1a" stroke-width="1" />
<line x1="223.47" y1="379.30" x2="223.47" y2="381.70" stroke="#1a1a1a" stroke-width="1" />
<line x1="234.79" y1="379.30" x2="234.79" y2="381.70" stroke="#1a1a1a" stroke-width="1" />
<line x1="246.12" y1="379.30" x2="246.12" y2="381.70" stroke="#1a1a1a" stroke-width="1" />
<line x1="257.45" y1="379.30" x2="257.45" y2="381.70" stroke="#1a1a1a" stroke-width="1" />
<line x1="268.78" y1="379.30" x2="268.78" y2="381.70" stroke="#1a1a1a" stroke-width="1" />
<line x1="280.11" y1="379.30" x2="280.11" y2="381.70" stroke="#1a1a1a" stroke-width="1" />
<line x1="291.43" y1="379.30" x2="291.43" y2="381.70" stroke="#1a1a1a" stroke-width="1" />
<line x1="302.76" y1="379.30" x2="302.76" y2="381.70" stroke="#1a1a1a" stroke-width="1" />
<line x1="314.09" y1="379.30" x2="314.09" y2="381.70" stroke="#1a1a1a" stroke-width="1" />
<line x1="325.42" y1="379.30" x2="325.42" y2="381.70" stroke="#1a1a1a" stroke-width="1" />
<line x1="336.75" y1="379.30" x2="336.75" y2="381.70" stroke="#1a1a1a" stroke-width="1" />
<line x1="348.07" y1="379.30" x2="348.07" y2="381.70" stroke="#1a1a1a" stroke-width="1" />
<line x1="359.40" y1="379.30" x2="359.40" y2="381.70" stroke="#1a1a1a" stroke-width="1" />
<line x1="370.73" y1="379.30" x2="370.73" y2="381.70" stroke="#1a1a1a" stroke-width="1" />
<line x1="382.06" y1="379.30" x2="382.06" y2="381.70" stroke="#1a1a1a" stroke-width="1" />
<line x1="393.39" y1="379.30" x2="393.39" y2="381.70" stroke="#1a1a1a" stroke-width="1" />
<line x1="404.72" y1="379.30" x2="404.72" y2="381.70" stroke="#1a1a1a" stroke-width="1" />
<line x1="416.04" y1="379.30" x2="416.04" y2="381.70" stroke="#1a1a1a" stroke-width="1" />
<line x1="427.37" y1="379.30" x2="427.37" y2="381.70" stroke="#1a1a1a" stroke-width="1" />
<line x1="438.70" y1="379.30" x2="438.70" y2="381.70" stroke="#1a1a1a" stroke-width="1" />
<line x1="72.90" y1="379.30" x2="76.20" y2="379.30" stroke="#1a1a1a" stroke-width="1" />
<text transform="translate(71.90,381.57) scale(1.12,1)" font-size="6.3" text-anchor="end" fill="#1a1a1a" stroke="#1a1a1a" stroke-width="0.18">0</text>
<line x1="72.90" y1="356.37" x2="76.20" y2="356.37" stroke="#1a1a1a" stroke-width="1" />
<text transform="translate(71.90,358.63) scale(1.12,1)" font-size="6.3" text-anchor="end" fill="#1a1a1a" stroke="#1a1a1a" stroke-width="0.18">1</text>
<line x1="72.90" y1="333.43" x2="76.20" y2="333.43" stroke="#1a1a1a" stroke-width="1" />
<text transform="translate(71.90,335.70) scale(1.12,1)" font-size="6.3" text-anchor="end" fill="#1a1a1a" stroke="#1a1a1a" stroke-width="0.18">2</text>
<line x1="72.90" y1="310.50" x2="76.20" y2="310.50" stroke="#1a1a1a" stroke-width="1" />
<text transform="translate(71.90,312.77) scale(1.12,1)" font-size="6.3" text-anchor="end" fill="#1a1a1a" stroke="#1a1a1a" stroke-width="0.18">3</text>
<text transform="translate(60.50,371.20) rotate(-90)" x="0" y="0" font-size="7.6" font-weight="bold" fill="#111" stroke="#111" stroke-width="0.2" textLength="54.60" lengthAdjust="spacingAndGlyphs">IFN-<tspan font-weight="normal" stroke-width="0">γ</tspan> (ng/mL)</text>
<line x1="479.60" y1="310.50" x2="479.60" y2="379.30" stroke="#888" stroke-width="1.0" />
<rect x="483.35" y="374.14" width="4.80" height="5.16" fill="#000" stroke="none" stroke-width="0" />
<line x1="467.90" y1="310.50" x2="491.90" y2="310.50" stroke="#1a1a1a" stroke-width="1.2" />
<line x1="491.90" y1="310.50" x2="491.90" y2="379.30" stroke="#1a1a1a" stroke-width="1.2" />
<line x1="467.90" y1="309.90" x2="467.90" y2="379.90" stroke="#1a1a1a" stroke-width="1.3" />
<line x1="467.90" y1="379.30" x2="491.90" y2="379.30" stroke="#1a1a1a" stroke-width="1.4" />
<line x1="467.90" y1="379.30" x2="467.90" y2="381.70" stroke="#1a1a1a" stroke-width="1" />
<line x1="479.60" y1="379.30" x2="479.60" y2="381.70" stroke="#1a1a1a" stroke-width="1" />
<line x1="491.90" y1="379.30" x2="491.90" y2="381.70" stroke="#1a1a1a" stroke-width="1" />
<line x1="465.60" y1="379.30" x2="467.90" y2="379.30" stroke="#1a1a1a" stroke-width="1" />
<text transform="translate(466.20,381.57) scale(1.12,1)" font-size="6.3" text-anchor="end" fill="#1a1a1a" stroke="#1a1a1a" stroke-width="0.18">0</text>
<line x1="465.60" y1="362.10" x2="467.90" y2="362.10" stroke="#1a1a1a" stroke-width="1" />
<text transform="translate(466.20,364.37) scale(1.12,1)" font-size="6.3" text-anchor="end" fill="#1a1a1a" stroke="#1a1a1a" stroke-width="0.18">5</text>
<line x1="465.60" y1="344.90" x2="467.90" y2="344.90" stroke="#1a1a1a" stroke-width="1" />
<text transform="translate(466.20,347.17) scale(1.12,1)" font-size="6.3" text-anchor="end" fill="#1a1a1a" stroke="#1a1a1a" stroke-width="0.18">10</text>
<line x1="465.60" y1="327.70" x2="467.90" y2="327.70" stroke="#1a1a1a" stroke-width="1" />
<text transform="translate(466.20,329.97) scale(1.12,1)" font-size="6.3" text-anchor="end" fill="#1a1a1a" stroke="#1a1a1a" stroke-width="0.18">15</text>
<line x1="465.60" y1="310.50" x2="467.90" y2="310.50" stroke="#1a1a1a" stroke-width="1" />
<text transform="translate(466.20,312.77) scale(1.12,1)" font-size="6.3" text-anchor="end" fill="#1a1a1a" stroke="#1a1a1a" stroke-width="0.18">20</text>
<text transform="translate(453.80,380.10) rotate(-90)" x="0" y="0" font-size="7.9" font-weight="bold" fill="#111" stroke="#111" stroke-width="0.2" textLength="54.20" lengthAdjust="spacingAndGlyphs">IFN-<tspan font-weight="normal" stroke-width="0">γ</tspan> (ng/mL)</text>
<rect x="505.40" y="323.23" width="4.60" height="56.07" fill="#000" stroke="none" stroke-width="0" />
<line x1="507.70" y1="321.16" x2="507.70" y2="323.23" stroke="#000" stroke-width="0.8" />
<line x1="506.20" y1="321.16" x2="509.20" y2="321.16" stroke="#000" stroke-width="0.8" />
<line x1="501.60" y1="310.50" x2="513.80" y2="310.50" stroke="#1a1a1a" stroke-width="1.2" />
<line x1="513.80" y1="310.50" x2="513.80" y2="379.30" stroke="#1a1a1a" stroke-width="1.2" />
<line x1="501.60" y1="309.90" x2="501.60" y2="379.90" stroke="#1a1a1a" stroke-width="1.3" />
<line x1="501.60" y1="379.30" x2="513.80" y2="379.30" stroke="#1a1a1a" stroke-width="1.4" />
<line x1="501.60" y1="379.30" x2="501.60" y2="381.70" stroke="#1a1a1a" stroke-width="1" />
<line x1="513.80" y1="379.30" x2="513.80" y2="381.70" stroke="#1a1a1a" stroke-width="1" />
<line x1="500.10" y1="362.10" x2="501.60" y2="362.10" stroke="#1a1a1a" stroke-width="1" />
<line x1="500.10" y1="344.90" x2="501.60" y2="344.90" stroke="#1a1a1a" stroke-width="1" />
<line x1="500.10" y1="327.70" x2="501.60" y2="327.70" stroke="#1a1a1a" stroke-width="1" />
<text x="73.90" y="397.20" font-size="8.5" font-weight="bold" fill="#111" stroke="#111" stroke-width="0.2" textLength="291.60" lengthAdjust="spacingAndGlyphs">(4) Allogeneic PBL transduced with enhanced HC/2G-1 TCR cDNA</text>
<line x1="87.53" y1="400.80" x2="87.53" y2="469.80" stroke="#999999" stroke-width="1.0" />
<line x1="98.86" y1="400.80" x2="98.86" y2="469.80" stroke="#999999" stroke-width="1.0" />
<line x1="110.18" y1="400.80" x2="110.18" y2="469.80" stroke="#999999" stroke-width="1.0" />
<line x1="121.51" y1="400.80" x2="121.51" y2="469.80" stroke="#999999" stroke-width="1.0" />
<line x1="132.84" y1="400.80" x2="132.84" y2="469.80" stroke="#999999" stroke-width="1.0" />
<line x1="144.17" y1="400.80" x2="144.17" y2="469.80" stroke="#999999" stroke-width="1.0" />
<line x1="155.50" y1="400.80" x2="155.50" y2="469.80" stroke="#999999" stroke-width="1.0" />
<line x1="166.82" y1="400.80" x2="166.82" y2="469.80" stroke="#999999" stroke-width="1.0" />
<line x1="178.15" y1="400.80" x2="178.15" y2="469.80" stroke="#999999" stroke-width="1.0" />
<line x1="189.48" y1="400.80" x2="189.48" y2="469.80" stroke="#999999" stroke-width="1.0" />
<line x1="200.81" y1="400.80" x2="200.81" y2="469.80" stroke="#999999" stroke-width="1.0" />
<line x1="212.14" y1="400.80" x2="212.14" y2="469.80" stroke="#999999" stroke-width="1.0" />
<line x1="223.47" y1="400.80" x2="223.47" y2="469.80" stroke="#999999" stroke-width="1.0" />
<line x1="234.79" y1="400.80" x2="234.79" y2="469.80" stroke="#999999" stroke-width="1.0" />
<line x1="246.12" y1="400.80" x2="246.12" y2="469.80" stroke="#999999" stroke-width="1.0" />
<line x1="257.45" y1="400.80" x2="257.45" y2="469.80" stroke="#999999" stroke-width="1.0" />
<line x1="268.78" y1="400.80" x2="268.78" y2="469.80" stroke="#999999" stroke-width="1.0" />
<line x1="280.11" y1="400.80" x2="280.11" y2="469.80" stroke="#999999" stroke-width="1.0" />
<line x1="291.43" y1="400.80" x2="291.43" y2="469.80" stroke="#999999" stroke-width="1.0" />
<line x1="302.76" y1="400.80" x2="302.76" y2="469.80" stroke="#999999" stroke-width="1.0" />
<line x1="314.09" y1="400.80" x2="314.09" y2="469.80" stroke="#999999" stroke-width="1.0" />
<line x1="325.42" y1="400.80" x2="325.42" y2="469.80" stroke="#999999" stroke-width="1.0" />
<line x1="336.75" y1="400.80" x2="336.75" y2="469.80" stroke="#999999" stroke-width="1.0" />
<line x1="348.07" y1="400.80" x2="348.07" y2="469.80" stroke="#999999" stroke-width="1.0" />
<line x1="359.40" y1="400.80" x2="359.40" y2="469.80" stroke="#999999" stroke-width="1.0" />
<line x1="370.73" y1="400.80" x2="370.73" y2="469.80" stroke="#999999" stroke-width="1.0" />
<line x1="382.06" y1="400.80" x2="382.06" y2="469.80" stroke="#999999" stroke-width="1.0" />
<line x1="393.39" y1="400.80" x2="393.39" y2="469.80" stroke="#999999" stroke-width="1.0" />
<line x1="404.72" y1="400.80" x2="404.72" y2="469.80" stroke="#999999" stroke-width="1.0" />
<line x1="416.04" y1="400.80" x2="416.04" y2="469.80" stroke="#999999" stroke-width="1.0" />
<line x1="427.37" y1="400.80" x2="427.37" y2="469.80" stroke="#999999" stroke-width="1.0" />
<rect x="79.56" y="468.65" width="4.60" height="1.15" fill="#000" stroke="none" stroke-width="0" />
<rect x="90.89" y="468.65" width="4.60" height="1.15" fill="#000" stroke="none" stroke-width="0" />
<rect x="102.22" y="468.65" width="4.60" height="1.15" fill="#000" stroke="none" stroke-width="0" />
<rect x="113.55" y="468.65" width="4.60" height="1.15" fill="#000" stroke="none" stroke-width="0" />
<rect x="124.88" y="468.65" width="4.60" height="1.15" fill="#000" stroke="none" stroke-width="0" />
<rect x="136.20" y="465.20" width="4.60" height="4.60" fill="#000" stroke="none" stroke-width="0" />
<rect x="147.53" y="468.65" width="4.60" height="1.15" fill="#000" stroke="none" stroke-width="0" />
<rect x="158.86" y="468.65" width="4.60" height="1.15" fill="#000" stroke="none" stroke-width="0" />
<rect x="170.19" y="468.65" width="4.60" height="1.15" fill="#000" stroke="none" stroke-width="0" />
<rect x="181.52" y="468.65" width="4.60" height="1.15" fill="#000" stroke="none" stroke-width="0" />
<rect x="192.85" y="468.65" width="4.60" height="1.15" fill="#000" stroke="none" stroke-width="0" />
<rect x="204.17" y="468.65" width="4.60" height="1.15" fill="#000" stroke="none" stroke-width="0" />
<rect x="215.50" y="468.65" width="4.60" height="1.15" fill="#000" stroke="none" stroke-width="0" />
<rect x="226.83" y="468.65" width="4.60" height="1.15" fill="#000" stroke="none" stroke-width="0" />
<rect x="238.16" y="468.65" width="4.60" height="1.15" fill="#000" stroke="none" stroke-width="0" />
<rect x="249.49" y="468.65" width="4.60" height="1.15" fill="#000" stroke="none" stroke-width="0" />
<rect x="260.81" y="468.65" width="4.60" height="1.15" fill="#000" stroke="none" stroke-width="0" />
<rect x="272.14" y="468.65" width="4.60" height="1.15" fill="#000" stroke="none" stroke-width="0" />
<rect x="283.47" y="467.73" width="4.60" height="2.07" fill="#000" stroke="none" stroke-width="0" />
<rect x="294.80" y="468.65" width="4.60" height="1.15" fill="#000" stroke="none" stroke-width="0" />
<rect x="306.13" y="468.65" width="4.60" height="1.15" fill="#000" stroke="none" stroke-width="0" />
<rect x="317.45" y="411.15" width="4.60" height="58.65" fill="#000" stroke="none" stroke-width="0" />
<rect x="328.78" y="467.96" width="4.60" height="1.84" fill="#000" stroke="none" stroke-width="0" />
<rect x="340.11" y="468.65" width="4.60" height="1.15" fill="#000" stroke="none" stroke-width="0" />
<rect x="351.44" y="467.73" width="4.60" height="2.07" fill="#000" stroke="none" stroke-width="0" />
<rect x="362.77" y="467.50" width="4.60" height="2.30" fill="#000" stroke="none" stroke-width="0" />
<rect x="374.10" y="467.50" width="4.60" height="2.30" fill="#000" stroke="none" stroke-width="0" />
<rect x="385.42" y="467.50" width="4.60" height="2.30" fill="#000" stroke="none" stroke-width="0" />
<rect x="396.75" y="449.79" width="4.60" height="20.01" fill="#000" stroke="none" stroke-width="0" />
<rect x="408.08" y="467.96" width="4.60" height="1.84" fill="#000" stroke="none" stroke-width="0" />
<rect x="419.41" y="467.96" width="4.60" height="1.84" fill="#000" stroke="none" stroke-width="0" />
<rect x="430.74" y="462.67" width="4.60" height="7.13" fill="#000" stroke="none" stroke-width="0" />
<line x1="76.20" y1="400.80" x2="438.70" y2="400.80" stroke="#1a1a1a" stroke-width="1.2" />
<line x1="438.70" y1="400.80" x2="438.70" y2="469.80" stroke="#1a1a1a" stroke-width="1.2" />
<line x1="76.20" y1="400.20" x2="76.20" y2="470.40" stroke="#1a1a1a" stroke-width="1.3" />
<line x1="76.20" y1="469.80" x2="438.70" y2="469.80" stroke="#1a1a1a" stroke-width="1.4" />
<line x1="76.20" y1="469.80" x2="76.20" y2="472.20" stroke="#1a1a1a" stroke-width="1" />
<line x1="87.53" y1="469.80" x2="87.53" y2="472.20" stroke="#1a1a1a" stroke-width="1" />
<line x1="98.86" y1="469.80" x2="98.86" y2="472.20" stroke="#1a1a1a" stroke-width="1" />
<line x1="110.18" y1="469.80" x2="110.18" y2="472.20" stroke="#1a1a1a" stroke-width="1" />
<line x1="121.51" y1="469.80" x2="121.51" y2="472.20" stroke="#1a1a1a" stroke-width="1" />
<line x1="132.84" y1="469.80" x2="132.84" y2="472.20" stroke="#1a1a1a" stroke-width="1" />
<line x1="144.17" y1="469.80" x2="144.17" y2="472.20" stroke="#1a1a1a" stroke-width="1" />
<line x1="155.50" y1="469.80" x2="155.50" y2="472.20" stroke="#1a1a1a" stroke-width="1" />
<line x1="166.82" y1="469.80" x2="166.82" y2="472.20" stroke="#1a1a1a" stroke-width="1" />
<line x1="178.15" y1="469.80" x2="178.15" y2="472.20" stroke="#1a1a1a" stroke-width="1" />
<line x1="189.48" y1="469.80" x2="189.48" y2="472.20" stroke="#1a1a1a" stroke-width="1" />
<line x1="200.81" y1="469.80" x2="200.81" y2="472.20" stroke="#1a1a1a" stroke-width="1" />
<line x1="212.14" y1="469.80" x2="212.14" y2="472.20" stroke="#1a1a1a" stroke-width="1" />
<line x1="223.47" y1="469.80" x2="223.47" y2="472.20" stroke="#1a1a1a" stroke-width="1" />
<line x1="234.79" y1="469.80" x2="234.79" y2="472.20" stroke="#1a1a1a" stroke-width="1" />
<line x1="246.12" y1="469.80" x2="246.12" y2="472.20" stroke="#1a1a1a" stroke-width="1" />
<line x1="257.45" y1="469.80" x2="257.45" y2="472.20" stroke="#1a1a1a" stroke-width="1" />
<line x1="268.78" y1="469.80" x2="268.78" y2="472.20" stroke="#1a1a1a" stroke-width="1" />
<line x1="280.11" y1="469.80" x2="280.11" y2="472.20" stroke="#1a1a1a" stroke-width="1" />
<line x1="291.43" y1="469.80" x2="291.43" y2="472.20" stroke="#1a1a1a" stroke-width="1" />
<line x1="302.76" y1="469.80" x2="302.76" y2="472.20" stroke="#1a1a1a" stroke-width="1" />
<line x1="314.09" y1="469.80" x2="314.09" y2="472.20" stroke="#1a1a1a" stroke-width="1" />
<line x1="325.42" y1="469.80" x2="325.42" y2="472.20" stroke="#1a1a1a" stroke-width="1" />
<line x1="336.75" y1="469.80" x2="336.75" y2="472.20" stroke="#1a1a1a" stroke-width="1" />
<line x1="348.07" y1="469.80" x2="348.07" y2="472.20" stroke="#1a1a1a" stroke-width="1" />
<line x1="359.40" y1="469.80" x2="359.40" y2="472.20" stroke="#1a1a1a" stroke-width="1" />
<line x1="370.73" y1="469.80" x2="370.73" y2="472.20" stroke="#1a1a1a" stroke-width="1" />
<line x1="382.06" y1="469.80" x2="382.06" y2="472.20" stroke="#1a1a1a" stroke-width="1" />
<line x1="393.39" y1="469.80" x2="393.39" y2="472.20" stroke="#1a1a1a" stroke-width="1" />
<line x1="404.72" y1="469.80" x2="404.72" y2="472.20" stroke="#1a1a1a" stroke-width="1" />
<line x1="416.04" y1="469.80" x2="416.04" y2="472.20" stroke="#1a1a1a" stroke-width="1" />
<line x1="427.37" y1="469.80" x2="427.37" y2="472.20" stroke="#1a1a1a" stroke-width="1" />
<line x1="438.70" y1="469.80" x2="438.70" y2="472.20" stroke="#1a1a1a" stroke-width="1" />
<line x1="72.90" y1="469.80" x2="76.20" y2="469.80" stroke="#1a1a1a" stroke-width="1" />
<text transform="translate(71.90,472.07) scale(1.12,1)" font-size="6.3" text-anchor="end" fill="#1a1a1a" stroke="#1a1a1a" stroke-width="0.18">0</text>
<line x1="72.90" y1="446.80" x2="76.20" y2="446.80" stroke="#1a1a1a" stroke-width="1" />
<text transform="translate(71.90,449.07) scale(1.12,1)" font-size="6.3" text-anchor="end" fill="#1a1a1a" stroke="#1a1a1a" stroke-width="0.18">1</text>
<line x1="72.90" y1="423.80" x2="76.20" y2="423.80" stroke="#1a1a1a" stroke-width="1" />
<text transform="translate(71.90,426.07) scale(1.12,1)" font-size="6.3" text-anchor="end" fill="#1a1a1a" stroke="#1a1a1a" stroke-width="0.18">2</text>
<line x1="72.90" y1="400.80" x2="76.20" y2="400.80" stroke="#1a1a1a" stroke-width="1" />
<text transform="translate(71.90,403.07) scale(1.12,1)" font-size="6.3" text-anchor="end" fill="#1a1a1a" stroke="#1a1a1a" stroke-width="0.18">3</text>
<text transform="translate(60.50,462.00) rotate(-90)" x="0" y="0" font-size="7.6" font-weight="bold" fill="#111" stroke="#111" stroke-width="0.2" textLength="55.00" lengthAdjust="spacingAndGlyphs">IFN-<tspan font-weight="normal" stroke-width="0">γ</tspan> (ng/mL)</text>
<line x1="479.60" y1="400.80" x2="479.60" y2="469.80" stroke="#888" stroke-width="1.0" />
<rect x="483.35" y="423.92" width="4.80" height="45.89" fill="#000" stroke="none" stroke-width="0" />
<line x1="485.75" y1="421.50" x2="485.75" y2="423.92" stroke="#000" stroke-width="0.8" />
<line x1="484.25" y1="421.50" x2="487.25" y2="421.50" stroke="#000" stroke-width="0.8" />
<line x1="467.90" y1="400.80" x2="491.90" y2="400.80" stroke="#1a1a1a" stroke-width="1.2" />
<line x1="491.90" y1="400.80" x2="491.90" y2="469.80" stroke="#1a1a1a" stroke-width="1.2" />
<line x1="467.90" y1="400.20" x2="467.90" y2="470.40" stroke="#1a1a1a" stroke-width="1.3" />
<line x1="467.90" y1="469.80" x2="491.90" y2="469.80" stroke="#1a1a1a" stroke-width="1.4" />
<line x1="467.90" y1="469.80" x2="467.90" y2="472.20" stroke="#1a1a1a" stroke-width="1" />
<line x1="479.60" y1="469.80" x2="479.60" y2="472.20" stroke="#1a1a1a" stroke-width="1" />
<line x1="491.90" y1="469.80" x2="491.90" y2="472.20" stroke="#1a1a1a" stroke-width="1" />
<line x1="465.60" y1="469.80" x2="467.90" y2="469.80" stroke="#1a1a1a" stroke-width="1" />
<text transform="translate(466.20,472.07) scale(1.12,1)" font-size="6.3" text-anchor="end" fill="#1a1a1a" stroke="#1a1a1a" stroke-width="0.18">0</text>
<line x1="465.60" y1="452.55" x2="467.90" y2="452.55" stroke="#1a1a1a" stroke-width="1" />
<text transform="translate(466.20,454.82) scale(1.12,1)" font-size="6.3" text-anchor="end" fill="#1a1a1a" stroke="#1a1a1a" stroke-width="0.18">5</text>
<line x1="465.60" y1="435.30" x2="467.90" y2="435.30" stroke="#1a1a1a" stroke-width="1" />
<text transform="translate(466.20,437.57) scale(1.12,1)" font-size="6.3" text-anchor="end" fill="#1a1a1a" stroke="#1a1a1a" stroke-width="0.18">10</text>
<line x1="465.60" y1="418.05" x2="467.90" y2="418.05" stroke="#1a1a1a" stroke-width="1" />
<text transform="translate(466.20,420.32) scale(1.12,1)" font-size="6.3" text-anchor="end" fill="#1a1a1a" stroke="#1a1a1a" stroke-width="0.18">15</text>
<line x1="465.60" y1="400.80" x2="467.90" y2="400.80" stroke="#1a1a1a" stroke-width="1" />
<text transform="translate(466.20,403.07) scale(1.12,1)" font-size="6.3" text-anchor="end" fill="#1a1a1a" stroke="#1a1a1a" stroke-width="0.18">20</text>
<text transform="translate(453.80,462.00) rotate(-90)" x="0" y="0" font-size="7.9" font-weight="bold" fill="#111" stroke="#111" stroke-width="0.2" textLength="54.90" lengthAdjust="spacingAndGlyphs">IFN-<tspan font-weight="normal" stroke-width="0">γ</tspan> (ng/mL)</text>
<rect x="505.40" y="429.09" width="4.60" height="40.71" fill="#000" stroke="none" stroke-width="0" />
<line x1="501.60" y1="400.80" x2="513.80" y2="400.80" stroke="#1a1a1a" stroke-width="1.2" />
<line x1="513.80" y1="400.80" x2="513.80" y2="469.80" stroke="#1a1a1a" stroke-width="1.2" />
<line x1="501.60" y1="400.20" x2="501.60" y2="470.40" stroke="#1a1a1a" stroke-width="1.3" />
<line x1="501.60" y1="469.80" x2="513.80" y2="469.80" stroke="#1a1a1a" stroke-width="1.4" />
<line x1="501.60" y1="469.80" x2="501.60" y2="472.20" stroke="#1a1a1a" stroke-width="1" />
<line x1="513.80" y1="469.80" x2="513.80" y2="472.20" stroke="#1a1a1a" stroke-width="1" />
<line x1="500.10" y1="452.55" x2="501.60" y2="452.55" stroke="#1a1a1a" stroke-width="1" />
<line x1="500.10" y1="435.30" x2="501.60" y2="435.30" stroke="#1a1a1a" stroke-width="1" />
<line x1="500.10" y1="418.05" x2="501.60" y2="418.05" stroke="#1a1a1a" stroke-width="1" />
<text transform="translate(477.60,506.40) rotate(-90)" x="0" y="0" font-size="8.2" font-weight="normal" fill="#111" stroke="#111" stroke-width="0.22" textLength="31.60" lengthAdjust="spacingAndGlyphs">624 mel</text>
<text transform="translate(489.60,504.80) rotate(-90)" x="0" y="0" font-size="8.2" font-weight="normal" fill="#111" stroke="#111" stroke-width="0.22" textLength="30.00" lengthAdjust="spacingAndGlyphs">RCC #6</text>
<text transform="translate(507.50,540.90) rotate(-90)" x="0" y="0" font-size="8.2" font-weight="normal" fill="#111" stroke="#111" stroke-width="0.22" textLength="67.40" lengthAdjust="spacingAndGlyphs">immobilized anti-</text>
<text transform="translate(517.60,540.90) rotate(-90)" x="0" y="0" font-size="8.2" font-weight="normal" fill="#111" stroke="#111" stroke-width="0.22" textLength="52.80" lengthAdjust="spacingAndGlyphs">CD3 antibody</text>
<line x1="76.20" y1="474.30" x2="438.70" y2="474.30" stroke="#a0a0a0" stroke-width="1" />
<line x1="76.20" y1="485.65" x2="438.70" y2="485.65" stroke="#a0a0a0" stroke-width="1" />
<line x1="76.20" y1="497.00" x2="438.70" y2="497.00" stroke="#a0a0a0" stroke-width="1" />
<line x1="76.20" y1="508.35" x2="438.70" y2="508.35" stroke="#a0a0a0" stroke-width="1" />
<line x1="76.20" y1="519.70" x2="438.70" y2="519.70" stroke="#a0a0a0" stroke-width="1" />
<line x1="76.20" y1="474.30" x2="76.20" y2="519.70" stroke="#a0a0a0" stroke-width="1" />
<line x1="87.53" y1="474.30" x2="87.53" y2="519.70" stroke="#a0a0a0" stroke-width="1" />
<line x1="98.86" y1="474.30" x2="98.86" y2="519.70" stroke="#a0a0a0" stroke-width="1" />
<line x1="110.18" y1="474.30" x2="110.18" y2="519.70" stroke="#a0a0a0" stroke-width="1" />
<line x1="121.51" y1="474.30" x2="121.51" y2="519.70" stroke="#a0a0a0" stroke-width="1" />
<line x1="132.84" y1="474.30" x2="132.84" y2="519.70" stroke="#a0a0a0" stroke-width="1" />
<line x1="144.17" y1="474.30" x2="144.17" y2="519.70" stroke="#a0a0a0" stroke-width="1" />
<line x1="155.50" y1="474.30" x2="155.50" y2="519.70" stroke="#a0a0a0" stroke-width="1" />
<line x1="166.82" y1="474.30" x2="166.82" y2="519.70" stroke="#a0a0a0" stroke-width="1" />
<line x1="178.15" y1="474.30" x2="178.15" y2="519.70" stroke="#a0a0a0" stroke-width="1" />
<line x1="189.48" y1="474.30" x2="189.48" y2="519.70" stroke="#a0a0a0" stroke-width="1" />
<line x1="200.81" y1="474.30" x2="200.81" y2="519.70" stroke="#a0a0a0" stroke-width="1" />
<line x1="212.14" y1="474.30" x2="212.14" y2="519.70" stroke="#a0a0a0" stroke-width="1" />
<line x1="223.47" y1="474.30" x2="223.47" y2="519.70" stroke="#a0a0a0" stroke-width="1" />
<line x1="234.79" y1="474.30" x2="234.79" y2="519.70" stroke="#a0a0a0" stroke-width="1" />
<line x1="246.12" y1="474.30" x2="246.12" y2="519.70" stroke="#a0a0a0" stroke-width="1" />
<line x1="257.45" y1="474.30" x2="257.45" y2="519.70" stroke="#a0a0a0" stroke-width="1" />
<line x1="268.78" y1="474.30" x2="268.78" y2="519.70" stroke="#a0a0a0" stroke-width="1" />
<line x1="280.11" y1="474.30" x2="280.11" y2="519.70" stroke="#a0a0a0" stroke-width="1" />
<line x1="291.43" y1="474.30" x2="291.43" y2="519.70" stroke="#a0a0a0" stroke-width="1" />
<line x1="302.76" y1="474.30" x2="302.76" y2="519.70" stroke="#a0a0a0" stroke-width="1" />
<line x1="314.09" y1="474.30" x2="314.09" y2="519.70" stroke="#a0a0a0" stroke-width="1" />
<line x1="325.42" y1="474.30" x2="325.42" y2="519.70" stroke="#a0a0a0" stroke-width="1" />
<line x1="336.75" y1="474.30" x2="336.75" y2="519.70" stroke="#a0a0a0" stroke-width="1" />
<line x1="348.07" y1="474.30" x2="348.07" y2="519.70" stroke="#a0a0a0" stroke-width="1" />
<line x1="359.40" y1="474.30" x2="359.40" y2="519.70" stroke="#a0a0a0" stroke-width="1" />
<line x1="370.73" y1="474.30" x2="370.73" y2="519.70" stroke="#a0a0a0" stroke-width="1" />
<line x1="382.06" y1="474.30" x2="382.06" y2="519.70" stroke="#a0a0a0" stroke-width="1" />
<line x1="393.39" y1="474.30" x2="393.39" y2="519.70" stroke="#a0a0a0" stroke-width="1" />
<line x1="404.72" y1="474.30" x2="404.72" y2="519.70" stroke="#a0a0a0" stroke-width="1" />
<line x1="416.04" y1="474.30" x2="416.04" y2="519.70" stroke="#a0a0a0" stroke-width="1" />
<line x1="427.37" y1="474.30" x2="427.37" y2="519.70" stroke="#a0a0a0" stroke-width="1" />
<line x1="438.70" y1="474.30" x2="438.70" y2="519.70" stroke="#a0a0a0" stroke-width="1" />
<text x="1.50" y="482.00" font-size="7.9" font-weight="bold" fill="#111" stroke="#111" stroke-width="0.2" textLength="70.80" lengthAdjust="spacingAndGlyphs">anti-CD2 antibody</text>
<line x1="80.16" y1="479.58" x2="83.56" y2="479.58" stroke="#1a1a1a" stroke-width="1.25" />
<line x1="90.19" y1="479.58" x2="96.19" y2="479.58" stroke="#1a1a1a" stroke-width="1.15" />
<line x1="93.19" y1="476.58" x2="93.19" y2="482.58" stroke="#1a1a1a" stroke-width="1.15" />
<line x1="102.82" y1="479.58" x2="106.22" y2="479.58" stroke="#1a1a1a" stroke-width="1.25" />
<line x1="114.15" y1="479.58" x2="117.55" y2="479.58" stroke="#1a1a1a" stroke-width="1.25" />
<line x1="125.48" y1="479.58" x2="128.88" y2="479.58" stroke="#1a1a1a" stroke-width="1.25" />
<line x1="135.50" y1="479.58" x2="141.50" y2="479.58" stroke="#1a1a1a" stroke-width="1.15" />
<line x1="138.50" y1="476.58" x2="138.50" y2="482.58" stroke="#1a1a1a" stroke-width="1.15" />
<line x1="146.83" y1="479.58" x2="152.83" y2="479.58" stroke="#1a1a1a" stroke-width="1.15" />
<line x1="149.83" y1="476.58" x2="149.83" y2="482.58" stroke="#1a1a1a" stroke-width="1.15" />
<line x1="158.16" y1="479.58" x2="164.16" y2="479.58" stroke="#1a1a1a" stroke-width="1.15" />
<line x1="161.16" y1="476.58" x2="161.16" y2="482.58" stroke="#1a1a1a" stroke-width="1.15" />
<line x1="170.79" y1="479.58" x2="174.19" y2="479.58" stroke="#1a1a1a" stroke-width="1.25" />
<line x1="182.12" y1="479.58" x2="185.52" y2="479.58" stroke="#1a1a1a" stroke-width="1.25" />
<line x1="193.45" y1="479.58" x2="196.85" y2="479.58" stroke="#1a1a1a" stroke-width="1.25" />
<line x1="203.47" y1="479.58" x2="209.47" y2="479.58" stroke="#1a1a1a" stroke-width="1.15" />
<line x1="206.47" y1="476.58" x2="206.47" y2="482.58" stroke="#1a1a1a" stroke-width="1.15" />
<line x1="214.80" y1="479.58" x2="220.80" y2="479.58" stroke="#1a1a1a" stroke-width="1.15" />
<line x1="217.80" y1="476.58" x2="217.80" y2="482.58" stroke="#1a1a1a" stroke-width="1.15" />
<line x1="226.13" y1="479.58" x2="232.13" y2="479.58" stroke="#1a1a1a" stroke-width="1.15" />
<line x1="229.13" y1="476.58" x2="229.13" y2="482.58" stroke="#1a1a1a" stroke-width="1.15" />
<line x1="238.76" y1="479.58" x2="242.16" y2="479.58" stroke="#1a1a1a" stroke-width="1.25" />
<line x1="248.79" y1="479.58" x2="254.79" y2="479.58" stroke="#1a1a1a" stroke-width="1.15" />
<line x1="251.79" y1="476.58" x2="251.79" y2="482.58" stroke="#1a1a1a" stroke-width="1.15" />
<line x1="261.41" y1="479.58" x2="264.81" y2="479.58" stroke="#1a1a1a" stroke-width="1.25" />
<line x1="271.44" y1="479.58" x2="277.44" y2="479.58" stroke="#1a1a1a" stroke-width="1.15" />
<line x1="274.44" y1="476.58" x2="274.44" y2="482.58" stroke="#1a1a1a" stroke-width="1.15" />
<line x1="284.07" y1="479.58" x2="287.47" y2="479.58" stroke="#1a1a1a" stroke-width="1.25" />
<line x1="295.40" y1="479.58" x2="298.80" y2="479.58" stroke="#1a1a1a" stroke-width="1.25" />
<line x1="306.73" y1="479.58" x2="310.13" y2="479.58" stroke="#1a1a1a" stroke-width="1.25" />
<line x1="316.75" y1="479.58" x2="322.75" y2="479.58" stroke="#1a1a1a" stroke-width="1.15" />
<line x1="319.75" y1="476.58" x2="319.75" y2="482.58" stroke="#1a1a1a" stroke-width="1.15" />
<line x1="328.08" y1="479.58" x2="334.08" y2="479.58" stroke="#1a1a1a" stroke-width="1.15" />
<line x1="331.08" y1="476.58" x2="331.08" y2="482.58" stroke="#1a1a1a" stroke-width="1.15" />
<line x1="339.41" y1="479.58" x2="345.41" y2="479.58" stroke="#1a1a1a" stroke-width="1.15" />
<line x1="342.41" y1="476.58" x2="342.41" y2="482.58" stroke="#1a1a1a" stroke-width="1.15" />
<line x1="352.04" y1="479.58" x2="355.44" y2="479.58" stroke="#1a1a1a" stroke-width="1.25" />
<line x1="363.37" y1="479.58" x2="366.77" y2="479.58" stroke="#1a1a1a" stroke-width="1.25" />
<line x1="374.70" y1="479.58" x2="378.10" y2="479.58" stroke="#1a1a1a" stroke-width="1.25" />
<line x1="384.72" y1="479.58" x2="390.72" y2="479.58" stroke="#1a1a1a" stroke-width="1.15" />
<line x1="387.72" y1="476.58" x2="387.72" y2="482.58" stroke="#1a1a1a" stroke-width="1.15" />
<line x1="396.05" y1="479.58" x2="402.05" y2="479.58" stroke="#1a1a1a" stroke-width="1.15" />
<line x1="399.05" y1="476.58" x2="399.05" y2="482.58" stroke="#1a1a1a" stroke-width="1.15" />
<line x1="407.38" y1="479.58" x2="413.38" y2="479.58" stroke="#1a1a1a" stroke-width="1.15" />
<line x1="410.38" y1="476.58" x2="410.38" y2="482.58" stroke="#1a1a1a" stroke-width="1.15" />
<line x1="420.01" y1="479.58" x2="423.41" y2="479.58" stroke="#1a1a1a" stroke-width="1.25" />
<line x1="430.04" y1="479.58" x2="436.04" y2="479.58" stroke="#1a1a1a" stroke-width="1.15" />
<line x1="433.04" y1="476.58" x2="433.04" y2="482.58" stroke="#1a1a1a" stroke-width="1.15" />
<text x="42.70" y="493.40" font-size="7.9" font-weight="bold" fill="#111" stroke="#111" stroke-width="0.2" textLength="29.60" lengthAdjust="spacingAndGlyphs">DR4-Fc</text>
<line x1="80.16" y1="490.93" x2="83.56" y2="490.93" stroke="#1a1a1a" stroke-width="1.25" />
<line x1="91.49" y1="490.93" x2="94.89" y2="490.93" stroke="#1a1a1a" stroke-width="1.25" />
<line x1="101.52" y1="490.93" x2="107.52" y2="490.93" stroke="#1a1a1a" stroke-width="1.15" />
<line x1="104.52" y1="487.93" x2="104.52" y2="493.93" stroke="#1a1a1a" stroke-width="1.15" />
<line x1="114.15" y1="490.93" x2="117.55" y2="490.93" stroke="#1a1a1a" stroke-width="1.25" />
<line x1="125.48" y1="490.93" x2="128.88" y2="490.93" stroke="#1a1a1a" stroke-width="1.25" />
<line x1="135.50" y1="490.93" x2="141.50" y2="490.93" stroke="#1a1a1a" stroke-width="1.15" />
<line x1="138.50" y1="487.93" x2="138.50" y2="493.93" stroke="#1a1a1a" stroke-width="1.15" />
<line x1="148.13" y1="490.93" x2="151.53" y2="490.93" stroke="#1a1a1a" stroke-width="1.25" />
<line x1="159.46" y1="490.93" x2="162.86" y2="490.93" stroke="#1a1a1a" stroke-width="1.25" />
<line x1="169.49" y1="490.93" x2="175.49" y2="490.93" stroke="#1a1a1a" stroke-width="1.15" />
<line x1="172.49" y1="487.93" x2="172.49" y2="493.93" stroke="#1a1a1a" stroke-width="1.15" />
<line x1="180.82" y1="490.93" x2="186.82" y2="490.93" stroke="#1a1a1a" stroke-width="1.15" />
<line x1="183.82" y1="487.93" x2="183.82" y2="493.93" stroke="#1a1a1a" stroke-width="1.15" />
<line x1="193.45" y1="490.93" x2="196.85" y2="490.93" stroke="#1a1a1a" stroke-width="1.25" />
<line x1="203.47" y1="490.93" x2="209.47" y2="490.93" stroke="#1a1a1a" stroke-width="1.15" />
<line x1="206.47" y1="487.93" x2="206.47" y2="493.93" stroke="#1a1a1a" stroke-width="1.15" />
<line x1="214.80" y1="490.93" x2="220.80" y2="490.93" stroke="#1a1a1a" stroke-width="1.15" />
<line x1="217.80" y1="487.93" x2="217.80" y2="493.93" stroke="#1a1a1a" stroke-width="1.15" />
<line x1="227.43" y1="490.93" x2="230.83" y2="490.93" stroke="#1a1a1a" stroke-width="1.25" />
<line x1="237.46" y1="490.93" x2="243.46" y2="490.93" stroke="#1a1a1a" stroke-width="1.15" />
<line x1="240.46" y1="487.93" x2="240.46" y2="493.93" stroke="#1a1a1a" stroke-width="1.15" />
<line x1="248.79" y1="490.93" x2="254.79" y2="490.93" stroke="#1a1a1a" stroke-width="1.15" />
<line x1="251.79" y1="487.93" x2="251.79" y2="493.93" stroke="#1a1a1a" stroke-width="1.15" />
<line x1="261.41" y1="490.93" x2="264.81" y2="490.93" stroke="#1a1a1a" stroke-width="1.25" />
<line x1="272.74" y1="490.93" x2="276.14" y2="490.93" stroke="#1a1a1a" stroke-width="1.25" />
<line x1="282.77" y1="490.93" x2="288.77" y2="490.93" stroke="#1a1a1a" stroke-width="1.15" />
<line x1="285.77" y1="487.93" x2="285.77" y2="493.93" stroke="#1a1a1a" stroke-width="1.15" />
<line x1="295.40" y1="490.93" x2="298.80" y2="490.93" stroke="#1a1a1a" stroke-width="1.25" />
<line x1="306.73" y1="490.93" x2="310.13" y2="490.93" stroke="#1a1a1a" stroke-width="1.25" />
<line x1="316.75" y1="490.93" x2="322.75" y2="490.93" stroke="#1a1a1a" stroke-width="1.15" />
<line x1="319.75" y1="487.93" x2="319.75" y2="493.93" stroke="#1a1a1a" stroke-width="1.15" />
<line x1="329.38" y1="490.93" x2="332.78" y2="490.93" stroke="#1a1a1a" stroke-width="1.25" />
<line x1="340.71" y1="490.93" x2="344.11" y2="490.93" stroke="#1a1a1a" stroke-width="1.25" />
<line x1="350.74" y1="490.93" x2="356.74" y2="490.93" stroke="#1a1a1a" stroke-width="1.15" />
<line x1="353.74" y1="487.93" x2="353.74" y2="493.93" stroke="#1a1a1a" stroke-width="1.15" />
<line x1="362.07" y1="490.93" x2="368.07" y2="490.93" stroke="#1a1a1a" stroke-width="1.15" />
<line x1="365.07" y1="487.93" x2="365.07" y2="493.93" stroke="#1a1a1a" stroke-width="1.15" />
<line x1="374.70" y1="490.93" x2="378.10" y2="490.93" stroke="#1a1a1a" stroke-width="1.25" />
<line x1="384.72" y1="490.93" x2="390.72" y2="490.93" stroke="#1a1a1a" stroke-width="1.15" />
<line x1="387.72" y1="487.93" x2="387.72" y2="493.93" stroke="#1a1a1a" stroke-width="1.15" />
<line x1="396.05" y1="490.93" x2="402.05" y2="490.93" stroke="#1a1a1a" stroke-width="1.15" />
<line x1="399.05" y1="487.93" x2="399.05" y2="493.93" stroke="#1a1a1a" stroke-width="1.15" />
<line x1="408.68" y1="490.93" x2="412.08" y2="490.93" stroke="#1a1a1a" stroke-width="1.25" />
<line x1="418.71" y1="490.93" x2="424.71" y2="490.93" stroke="#1a1a1a" stroke-width="1.15" />
<line x1="421.71" y1="487.93" x2="421.71" y2="493.93" stroke="#1a1a1a" stroke-width="1.15" />
<line x1="430.04" y1="490.93" x2="436.04" y2="490.93" stroke="#1a1a1a" stroke-width="1.15" />
<line x1="433.04" y1="487.93" x2="433.04" y2="493.93" stroke="#1a1a1a" stroke-width="1.15" />
<text x="42.70" y="504.80" font-size="7.9" font-weight="bold" fill="#111" stroke="#111" stroke-width="0.2" textLength="29.60" lengthAdjust="spacingAndGlyphs">DR5-Fc</text>
<line x1="80.16" y1="502.28" x2="83.56" y2="502.28" stroke="#1a1a1a" stroke-width="1.25" />
<line x1="91.49" y1="502.28" x2="94.89" y2="502.28" stroke="#1a1a1a" stroke-width="1.25" />
<line x1="102.82" y1="502.28" x2="106.22" y2="502.28" stroke="#1a1a1a" stroke-width="1.25" />
<line x1="112.85" y1="502.28" x2="118.85" y2="502.28" stroke="#1a1a1a" stroke-width="1.15" />
<line x1="115.85" y1="499.28" x2="115.85" y2="505.28" stroke="#1a1a1a" stroke-width="1.15" />
<line x1="125.48" y1="502.28" x2="128.88" y2="502.28" stroke="#1a1a1a" stroke-width="1.25" />
<line x1="136.80" y1="502.28" x2="140.20" y2="502.28" stroke="#1a1a1a" stroke-width="1.25" />
<line x1="146.83" y1="502.28" x2="152.83" y2="502.28" stroke="#1a1a1a" stroke-width="1.15" />
<line x1="149.83" y1="499.28" x2="149.83" y2="505.28" stroke="#1a1a1a" stroke-width="1.15" />
<line x1="159.46" y1="502.28" x2="162.86" y2="502.28" stroke="#1a1a1a" stroke-width="1.25" />
<line x1="169.49" y1="502.28" x2="175.49" y2="502.28" stroke="#1a1a1a" stroke-width="1.15" />
<line x1="172.49" y1="499.28" x2="172.49" y2="505.28" stroke="#1a1a1a" stroke-width="1.15" />
<line x1="182.12" y1="502.28" x2="185.52" y2="502.28" stroke="#1a1a1a" stroke-width="1.25" />
<line x1="192.15" y1="502.28" x2="198.15" y2="502.28" stroke="#1a1a1a" stroke-width="1.15" />
<line x1="195.15" y1="499.28" x2="195.15" y2="505.28" stroke="#1a1a1a" stroke-width="1.15" />
<line x1="203.47" y1="502.28" x2="209.47" y2="502.28" stroke="#1a1a1a" stroke-width="1.15" />
<line x1="206.47" y1="499.28" x2="206.47" y2="505.28" stroke="#1a1a1a" stroke-width="1.15" />
<line x1="216.10" y1="502.28" x2="219.50" y2="502.28" stroke="#1a1a1a" stroke-width="1.25" />
<line x1="226.13" y1="502.28" x2="232.13" y2="502.28" stroke="#1a1a1a" stroke-width="1.15" />
<line x1="229.13" y1="499.28" x2="229.13" y2="505.28" stroke="#1a1a1a" stroke-width="1.15" />
<line x1="237.46" y1="502.28" x2="243.46" y2="502.28" stroke="#1a1a1a" stroke-width="1.15" />
<line x1="240.46" y1="499.28" x2="240.46" y2="505.28" stroke="#1a1a1a" stroke-width="1.15" />
<line x1="248.79" y1="502.28" x2="254.79" y2="502.28" stroke="#1a1a1a" stroke-width="1.15" />
<line x1="251.79" y1="499.28" x2="251.79" y2="505.28" stroke="#1a1a1a" stroke-width="1.15" />
<line x1="261.41" y1="502.28" x2="264.81" y2="502.28" stroke="#1a1a1a" stroke-width="1.25" />
<line x1="272.74" y1="502.28" x2="276.14" y2="502.28" stroke="#1a1a1a" stroke-width="1.25" />
<line x1="284.07" y1="502.28" x2="287.47" y2="502.28" stroke="#1a1a1a" stroke-width="1.25" />
<line x1="294.10" y1="502.28" x2="300.10" y2="502.28" stroke="#1a1a1a" stroke-width="1.15" />
<line x1="297.10" y1="499.28" x2="297.10" y2="505.28" stroke="#1a1a1a" stroke-width="1.15" />
<line x1="306.73" y1="502.28" x2="310.13" y2="502.28" stroke="#1a1a1a" stroke-width="1.25" />
<line x1="318.05" y1="502.28" x2="321.45" y2="502.28" stroke="#1a1a1a" stroke-width="1.25" />
<line x1="328.08" y1="502.28" x2="334.08" y2="502.28" stroke="#1a1a1a" stroke-width="1.15" />
<line x1="331.08" y1="499.28" x2="331.08" y2="505.28" stroke="#1a1a1a" stroke-width="1.15" />
<line x1="340.71" y1="502.28" x2="344.11" y2="502.28" stroke="#1a1a1a" stroke-width="1.25" />
<line x1="350.74" y1="502.28" x2="356.74" y2="502.28" stroke="#1a1a1a" stroke-width="1.15" />
<line x1="353.74" y1="499.28" x2="353.74" y2="505.28" stroke="#1a1a1a" stroke-width="1.15" />
<line x1="363.37" y1="502.28" x2="366.77" y2="502.28" stroke="#1a1a1a" stroke-width="1.25" />
<line x1="373.40" y1="502.28" x2="379.40" y2="502.28" stroke="#1a1a1a" stroke-width="1.15" />
<line x1="376.40" y1="499.28" x2="376.40" y2="505.28" stroke="#1a1a1a" stroke-width="1.15" />
<line x1="384.72" y1="502.28" x2="390.72" y2="502.28" stroke="#1a1a1a" stroke-width="1.15" />
<line x1="387.72" y1="499.28" x2="387.72" y2="505.28" stroke="#1a1a1a" stroke-width="1.15" />
<line x1="397.35" y1="502.28" x2="400.75" y2="502.28" stroke="#1a1a1a" stroke-width="1.25" />
<line x1="407.38" y1="502.28" x2="413.38" y2="502.28" stroke="#1a1a1a" stroke-width="1.15" />
<line x1="410.38" y1="499.28" x2="410.38" y2="505.28" stroke="#1a1a1a" stroke-width="1.15" />
<line x1="418.71" y1="502.28" x2="424.71" y2="502.28" stroke="#1a1a1a" stroke-width="1.15" />
<line x1="421.71" y1="499.28" x2="421.71" y2="505.28" stroke="#1a1a1a" stroke-width="1.15" />
<line x1="430.04" y1="502.28" x2="436.04" y2="502.28" stroke="#1a1a1a" stroke-width="1.15" />
<line x1="433.04" y1="499.28" x2="433.04" y2="505.28" stroke="#1a1a1a" stroke-width="1.15" />
<text x="8.70" y="516.20" font-size="7.9" font-weight="bold" fill="#111" stroke="#111" stroke-width="0.2" textLength="63.60" lengthAdjust="spacingAndGlyphs">Fc portion alone</text>
<line x1="80.16" y1="513.62" x2="83.56" y2="513.62" stroke="#1a1a1a" stroke-width="1.25" />
<line x1="91.49" y1="513.62" x2="94.89" y2="513.62" stroke="#1a1a1a" stroke-width="1.25" />
<line x1="102.82" y1="513.62" x2="106.22" y2="513.62" stroke="#1a1a1a" stroke-width="1.25" />
<line x1="114.15" y1="513.62" x2="117.55" y2="513.62" stroke="#1a1a1a" stroke-width="1.25" />
<line x1="124.18" y1="513.62" x2="130.18" y2="513.62" stroke="#1a1a1a" stroke-width="1.15" />
<line x1="127.18" y1="510.62" x2="127.18" y2="516.62" stroke="#1a1a1a" stroke-width="1.15" />
<line x1="136.80" y1="513.62" x2="140.20" y2="513.62" stroke="#1a1a1a" stroke-width="1.25" />
<line x1="148.13" y1="513.62" x2="151.53" y2="513.62" stroke="#1a1a1a" stroke-width="1.25" />
<line x1="158.16" y1="513.62" x2="164.16" y2="513.62" stroke="#1a1a1a" stroke-width="1.15" />
<line x1="161.16" y1="510.62" x2="161.16" y2="516.62" stroke="#1a1a1a" stroke-width="1.15" />
<line x1="170.79" y1="513.62" x2="174.19" y2="513.62" stroke="#1a1a1a" stroke-width="1.25" />
<line x1="180.82" y1="513.62" x2="186.82" y2="513.62" stroke="#1a1a1a" stroke-width="1.15" />
<line x1="183.82" y1="510.62" x2="183.82" y2="516.62" stroke="#1a1a1a" stroke-width="1.15" />
<line x1="192.15" y1="513.62" x2="198.15" y2="513.62" stroke="#1a1a1a" stroke-width="1.15" />
<line x1="195.15" y1="510.62" x2="195.15" y2="516.62" stroke="#1a1a1a" stroke-width="1.15" />
<line x1="204.77" y1="513.62" x2="208.17" y2="513.62" stroke="#1a1a1a" stroke-width="1.25" />
<line x1="214.80" y1="513.62" x2="220.80" y2="513.62" stroke="#1a1a1a" stroke-width="1.15" />
<line x1="217.80" y1="510.62" x2="217.80" y2="516.62" stroke="#1a1a1a" stroke-width="1.15" />
<line x1="226.13" y1="513.62" x2="232.13" y2="513.62" stroke="#1a1a1a" stroke-width="1.15" />
<line x1="229.13" y1="510.62" x2="229.13" y2="516.62" stroke="#1a1a1a" stroke-width="1.15" />
<line x1="237.46" y1="513.62" x2="243.46" y2="513.62" stroke="#1a1a1a" stroke-width="1.15" />
<line x1="240.46" y1="510.62" x2="240.46" y2="516.62" stroke="#1a1a1a" stroke-width="1.15" />
<line x1="248.79" y1="513.62" x2="254.79" y2="513.62" stroke="#1a1a1a" stroke-width="1.15" />
<line x1="251.79" y1="510.62" x2="251.79" y2="516.62" stroke="#1a1a1a" stroke-width="1.15" />
<line x1="261.41" y1="513.62" x2="264.81" y2="513.62" stroke="#1a1a1a" stroke-width="1.25" />
<line x1="272.74" y1="513.62" x2="276.14" y2="513.62" stroke="#1a1a1a" stroke-width="1.25" />
<line x1="284.07" y1="513.62" x2="287.47" y2="513.62" stroke="#1a1a1a" stroke-width="1.25" />
<line x1="295.40" y1="513.62" x2="298.80" y2="513.62" stroke="#1a1a1a" stroke-width="1.25" />
<line x1="305.43" y1="513.62" x2="311.43" y2="513.62" stroke="#1a1a1a" stroke-width="1.15" />
<line x1="308.43" y1="510.62" x2="308.43" y2="516.62" stroke="#1a1a1a" stroke-width="1.15" />
<line x1="318.05" y1="513.62" x2="321.45" y2="513.62" stroke="#1a1a1a" stroke-width="1.25" />
<line x1="329.38" y1="513.62" x2="332.78" y2="513.62" stroke="#1a1a1a" stroke-width="1.25" />
<line x1="339.41" y1="513.62" x2="345.41" y2="513.62" stroke="#1a1a1a" stroke-width="1.15" />
<line x1="342.41" y1="510.62" x2="342.41" y2="516.62" stroke="#1a1a1a" stroke-width="1.15" />
<line x1="352.04" y1="513.62" x2="355.44" y2="513.62" stroke="#1a1a1a" stroke-width="1.25" />
<line x1="362.07" y1="513.62" x2="368.07" y2="513.62" stroke="#1a1a1a" stroke-width="1.15" />
<line x1="365.07" y1="510.62" x2="365.07" y2="516.62" stroke="#1a1a1a" stroke-width="1.15" />
<line x1="373.40" y1="513.62" x2="379.40" y2="513.62" stroke="#1a1a1a" stroke-width="1.15" />
<line x1="376.40" y1="510.62" x2="376.40" y2="516.62" stroke="#1a1a1a" stroke-width="1.15" />
<line x1="386.02" y1="513.62" x2="389.42" y2="513.62" stroke="#1a1a1a" stroke-width="1.25" />
<line x1="396.05" y1="513.62" x2="402.05" y2="513.62" stroke="#1a1a1a" stroke-width="1.15" />
<line x1="399.05" y1="510.62" x2="399.05" y2="516.62" stroke="#1a1a1a" stroke-width="1.15" />
<line x1="407.38" y1="513.62" x2="413.38" y2="513.62" stroke="#1a1a1a" stroke-width="1.15" />
<line x1="410.38" y1="510.62" x2="410.38" y2="516.62" stroke="#1a1a1a" stroke-width="1.15" />
<line x1="418.71" y1="513.62" x2="424.71" y2="513.62" stroke="#1a1a1a" stroke-width="1.15" />
<line x1="421.71" y1="510.62" x2="421.71" y2="516.62" stroke="#1a1a1a" stroke-width="1.15" />
<line x1="430.04" y1="513.62" x2="436.04" y2="513.62" stroke="#1a1a1a" stroke-width="1.15" />
<line x1="433.04" y1="510.62" x2="433.04" y2="516.62" stroke="#1a1a1a" stroke-width="1.15" />
<line x1="78.50" y1="524.60" x2="256.00" y2="524.60" stroke="#111" stroke-width="1.5" />
<line x1="262.00" y1="524.80" x2="438.00" y2="524.80" stroke="#111" stroke-width="1.5" />
<text x="131.90" y="537.80" font-size="8.2" font-weight="bold" fill="#111" stroke="#111" stroke-width="0.2" textLength="70.70" lengthAdjust="spacingAndGlyphs">w/o soluble TRAIL</text>
<text x="313.50" y="537.60" font-size="8.2" font-weight="bold" fill="#111" stroke="#111" stroke-width="0.2" textLength="72.90" lengthAdjust="spacingAndGlyphs">with soluble TRAIL</text>
</svg>
</body></html>
